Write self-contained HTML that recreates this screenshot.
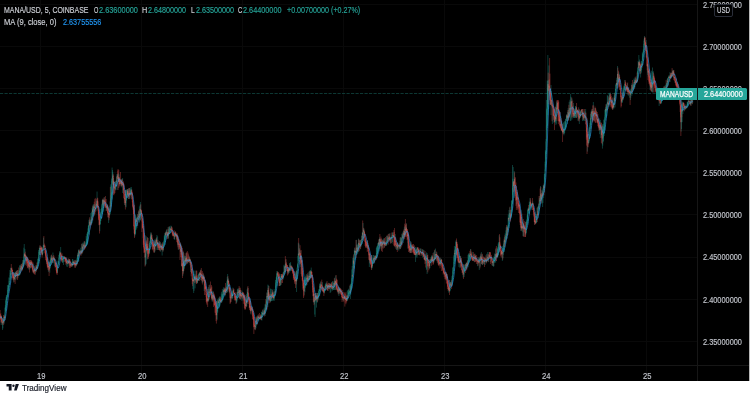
<!DOCTYPE html>
<html><head><meta charset="utf-8"><style>
html,body{margin:0;padding:0;width:750px;height:400px;overflow:hidden;background:#fff;font-family:"Liberation Sans",sans-serif;}
#chart{position:absolute;left:0;top:0;width:749px;height:381px;background:#000;overflow:hidden}
svg{position:absolute;left:0;top:0}
.t{position:absolute;line-height:12px;white-space:nowrap;transform-origin:0 0;-webkit-text-stroke:0.15px currentColor}
.lb{position:absolute;top:88px;height:12px;background:#26a69a}
#usd{position:absolute;left:714px;top:4px;width:17px;height:11px;border:1px solid #2a2e39;border-radius:2px;background:#000}
#foot{position:absolute;left:0;top:381px;width:750px;height:19px;background:#fff}
</style></head><body>
<div id="chart">
<svg width="749" height="381" viewBox="0 0 749 381">
<defs><filter id="bl" x="-1%" y="-1%" width="102%" height="102%"><feGaussianBlur stdDeviation="0.3"/></filter></defs>
<line x1="40.5" y1="0" x2="40.5" y2="381" stroke="#090909" stroke-width="1"/>
<line x1="141.5" y1="0" x2="141.5" y2="381" stroke="#090909" stroke-width="1"/>
<line x1="242.5" y1="0" x2="242.5" y2="381" stroke="#090909" stroke-width="1"/>
<line x1="343.5" y1="0" x2="343.5" y2="381" stroke="#090909" stroke-width="1"/>
<line x1="444.5" y1="0" x2="444.5" y2="381" stroke="#090909" stroke-width="1"/>
<line x1="545.5" y1="0" x2="545.5" y2="381" stroke="#090909" stroke-width="1"/>
<line x1="646.5" y1="0" x2="646.5" y2="381" stroke="#090909" stroke-width="1"/>
<line x1="0" y1="4.5" x2="697.5" y2="4.5" stroke="#090909" stroke-width="1"/>
<line x1="0" y1="46.5" x2="697.5" y2="46.5" stroke="#090909" stroke-width="1"/>
<line x1="0" y1="88.5" x2="697.5" y2="88.5" stroke="#090909" stroke-width="1"/>
<line x1="0" y1="130.5" x2="697.5" y2="130.5" stroke="#090909" stroke-width="1"/>
<line x1="0" y1="172.5" x2="697.5" y2="172.5" stroke="#090909" stroke-width="1"/>
<line x1="0" y1="214.5" x2="697.5" y2="214.5" stroke="#090909" stroke-width="1"/>
<line x1="0" y1="257.5" x2="697.5" y2="257.5" stroke="#090909" stroke-width="1"/>
<line x1="0" y1="299.5" x2="697.5" y2="299.5" stroke="#090909" stroke-width="1"/>
<line x1="0" y1="341.5" x2="697.5" y2="341.5" stroke="#090909" stroke-width="1"/>
<line x1="0" y1="93.5" x2="697" y2="93.5" stroke="#104540" stroke-width="0.8" stroke-dasharray="3.2 1.3"/>
<g filter="url(#bl)">
<path d="M-2.00 315.5V318.8M-1.30 310.0V322.5M-0.60 310.0V321.1M-0.25 315.8V317.5M1.15 315.0V325.0M2.55 320.0V330.0M2.90 318.4V328.4M3.25 317.0V322.9M3.95 318.8V324.1M4.30 314.7V320.0M5.00 307.5V320.0M5.35 305.1V312.5M5.70 300.5V310.9M6.05 297.3V308.7M6.40 295.0V310.0M6.75 295.4V305.0M7.10 295.3V299.9M7.45 285.0V297.5M7.80 290.0V295.7M8.15 285.5V293.6M8.50 285.3V291.5M8.85 277.5V290.0M9.20 281.1V287.3M9.55 282.7V284.9M9.90 270.0V282.5M10.25 272.8V280.2M10.60 271.0V278.9M10.95 267.6V274.2M13.75 272.5V282.5M14.45 276.6V280.1M14.80 272.5V279.6M15.50 272.0V276.9M15.85 271.6V280.2M16.55 270.9V276.2M17.25 270.2V276.1M17.95 274.7V278.1M18.30 272.6V275.1M19.00 270.0V275.8M19.35 271.1V275.5M19.70 265.6V272.1M20.05 265.0V275.0M20.75 267.8V272.2M21.10 263.9V269.5M22.50 262.5V270.0M22.85 260.0V268.5M23.55 259.8V265.5M23.90 247.7V264.0M24.25 244.0V262.5M24.95 249.1V261.0M25.65 255.0V265.0M26.70 256.8V261.0M28.80 263.3V269.6M29.85 260.0V269.4M30.90 261.7V268.3M33.70 264.2V273.4M34.75 270.0V271.7M35.45 269.2V273.5M35.80 265.5V269.8M36.50 265.6V271.2M37.20 265.8V269.1M37.55 258.6V267.6M37.90 262.0V266.0M38.25 259.0V264.3M38.60 250.0V262.5M38.95 251.7V261.0M39.30 247.8V255.2M39.65 246.4V254.7M41.05 246.3V252.8M42.45 248.9V255.4M42.80 247.9V254.1M43.15 244.8V250.5M43.50 237.6V247.7M44.20 245.8V247.3M47.00 259.0V264.0M48.40 261.7V271.9M49.80 260.4V272.7M50.15 261.6V268.0M50.50 258.3V266.5M50.85 256.5V263.0M51.20 255.0V265.0M51.90 256.6V263.7M52.95 252.5V262.5M53.30 257.2V263.2M54.35 257.9V265.9M55.40 261.7V266.9M57.50 266.5V271.4M57.85 260.7V268.9M58.20 262.7V265.7M58.55 261.2V263.9M58.90 255.0V262.5M59.25 254.4V259.4M59.60 251.1V259.8M59.95 251.6V255.1M60.65 247.0V259.0M62.40 257.7V262.8M62.75 255.8V262.8M63.10 257.6V260.4M63.45 256.0V265.0M63.80 256.1V262.1M64.15 256.3V258.4M66.60 257.5V266.5M67.65 261.1V267.1M68.00 260.0V264.3M68.70 259.6V263.5M69.05 258.8V265.9M70.80 263.5V265.7M71.15 264.3V265.9M71.85 261.8V266.7M72.55 259.0V266.5M72.90 259.2V264.5M73.60 260.8V265.0M73.95 260.7V265.4M75.70 259.8V266.8M76.40 262.3V266.2M76.75 258.3V263.7M77.45 255.0V264.1M77.80 252.5V259.1M78.50 250.0V262.0M78.85 249.3V261.1M79.55 251.9V254.0M80.25 250.1V252.8M80.60 247.7V254.2M81.65 244.0V254.5M82.35 243.5V253.2M83.05 242.4V251.3M83.40 243.6V246.8M84.10 241.4V249.4M84.80 242.2V248.3M85.85 241.6V247.3M86.20 235.9V246.4M86.55 238.7V245.9M86.90 233.8V245.2M87.25 233.1V242.9M87.60 232.0V244.0M87.95 228.4V235.9M88.30 225.6V233.0M88.65 225.2V234.2M89.00 220.0V235.0M89.35 218.6V227.3M90.40 221.9V225.5M90.75 213.0V223.1M91.10 219.0V224.2M91.80 211.5V223.8M92.15 208.0V223.0M92.50 206.5V216.7M93.20 204.4V214.2M93.55 204.5V216.7M93.90 206.0V213.6M94.60 204.2V215.2M96.00 203.1V211.0M96.35 201.2V205.8M97.05 191.5V208.0M99.85 221.8V231.2M100.20 213.3V224.4M100.55 218.1V221.2M100.90 209.0V221.2M101.25 211.6V219.3M101.60 207.8V212.8M101.95 204.0V214.2M102.30 200.0V213.3M102.65 199.0V214.0M103.35 201.2V207.8M103.70 199.4V211.6M104.40 197.1V202.4M105.80 202.5V207.0M106.50 204.4V210.9M106.85 204.9V208.6M108.60 208.0V223.0M109.65 208.3V215.6M110.00 201.4V214.0M110.70 184.4V209.4M111.05 186.2V206.6M111.40 192.0V203.8M111.75 178.6V200.0M112.10 167.5V199.0M112.45 170.0V183.4M112.80 171.9V184.2M113.50 178.0V193.5M114.20 185.6V188.7M115.25 185.2V190.3M115.60 181.0V190.2M116.30 179.7V186.9M117.00 174.0V190.1M117.35 173.9V179.0M118.40 173.3V181.9M119.10 174.4V182.2M119.80 182.5V184.4M120.15 180.4V184.6M121.20 179.6V187.4M121.90 178.8V185.9M122.60 178.0V193.0M124.70 197.7V205.1M125.75 189.9V206.7M126.10 189.7V207.4M126.45 189.7V200.7M126.80 194.3V196.0M127.15 189.2V196.7M127.85 189.2V195.1M128.55 188.5V199.0M129.25 188.1V199.0M130.30 189.5V195.0M130.65 187.4V195.7M131.00 188.9V195.0M131.35 187.0V199.0M134.85 221.7V236.6M135.20 219.0V235.0M135.55 214.5V233.8M135.90 215.4V227.1M136.60 217.5V229.6M136.95 218.0V228.2M137.30 217.2V219.2M138.00 214.4V220.5M138.35 211.8V217.2M139.05 210.8V222.9M139.40 206.4V222.2M140.10 204.6V220.8M140.45 202.0V220.0M141.15 210.3V218.9M145.35 254.1V265.7M145.70 247.9V264.8M146.05 236.0V263.9M147.10 237.1V259.7M149.20 248.6V254.2M149.55 242.5V252.8M149.90 240.8V249.8M150.25 236.7V244.7M150.60 233.6V242.8M150.95 232.0V247.0M151.65 233.9V240.8M153.40 243.2V247.3M154.45 243.7V252.5M154.80 239.4V252.2M155.50 242.0V246.1M155.85 239.5V245.9M156.20 238.1V242.8M156.90 235.0V250.0M157.60 236.4V250.0M159.35 241.0V250.0M160.40 241.9V251.7M161.45 243.6V249.7M162.15 243.5V255.5M163.20 244.8V251.3M163.55 241.3V248.3M163.90 242.3V245.4M164.25 235.6V244.2M164.60 235.3V241.8M164.95 233.0V245.0M165.30 232.4V242.2M166.00 231.7V239.5M166.35 230.3V233.3M166.70 229.6V234.4M167.40 232.9V236.8M168.10 227.0V239.0M168.45 229.2V238.1M169.15 227.5V234.0M169.50 226.2V233.2M169.85 226.8V233.5M170.20 228.1V231.6M170.90 225.5V233.0M171.25 226.2V230.1M173.00 233.7V235.7M174.40 234.4V239.4M174.75 233.3V239.8M175.10 231.6V236.0M176.50 233.6V239.4M177.55 235.3V245.3M178.60 239.5V249.8M180.35 242.9V251.8M181.05 244.6V254.3M182.10 259.4V267.2M182.80 252.1V276.0M183.50 251.9V272.5M184.20 260.2V269.0M184.55 255.5V267.5M184.90 256.3V263.0M185.60 256.0V265.9M186.30 252.8V261.5M187.00 259.0V263.8M187.70 259.4V263.6M188.75 259.1V261.9M189.10 255.8V261.7M189.80 257.9V263.2M190.50 260.0V272.0M191.55 268.8V273.1M192.95 277.6V289.0M193.65 270.6V293.0M194.00 270.6V290.8M194.35 273.8V278.3M195.05 277.9V288.4M195.40 274.4V282.6M195.75 270.6V281.2M197.15 279.1V283.4M197.50 276.5V283.0M198.20 277.5V280.9M198.55 273.7V280.4M198.90 273.7V280.5M199.25 272.7V274.9M199.95 272.7V275.9M200.65 269.7V280.1M202.05 273.5V282.7M202.75 275.5V282.6M203.45 273.8V279.4M204.15 275.9V291.0M207.30 297.8V301.7M208.35 286.9V301.5M208.70 288.8V300.8M209.75 284.6V294.8M210.10 288.7V291.2M211.15 288.3V297.5M212.20 295.3V301.8M212.55 291.4V300.3M213.25 291.1V300.0M216.75 300.6V319.0M217.10 306.9V320.3M217.45 299.7V311.3M217.80 301.1V312.6M218.15 298.6V308.2M218.85 297.6V308.5M219.20 298.3V303.0M219.55 296.6V307.0M220.25 298.7V305.5M221.30 293.6V302.7M221.65 291.8V302.7M222.00 295.5V302.0M222.35 289.0V301.0M222.70 293.7V300.1M223.05 290.7V295.5M223.40 287.2V297.0M224.10 288.3V292.4M224.80 290.8V296.4M225.15 288.0V295.6M225.85 287.9V293.3M226.20 286.5V290.9M226.90 281.2V293.0M227.25 276.8V285.5M227.60 274.0V292.0M228.30 278.4V287.4M229.35 284.9V293.3M230.75 295.3V302.0M231.45 293.6V298.9M231.80 291.1V296.6M232.50 292.5V299.0M232.85 287.6V298.0M233.20 290.1V292.3M236.35 297.1V303.3M236.70 295.8V302.6M237.05 292.8V301.5M237.40 289.2V297.4M237.75 288.5V295.2M238.45 289.5V297.6M238.80 287.9V293.4M239.50 290.0V298.5M240.55 289.8V299.5M241.95 290.6V301.0M242.30 291.9V299.5M243.70 294.8V299.6M245.80 300.8V308.4M246.15 299.0V306.0M246.85 293.8V306.3M247.20 289.2V300.0M247.55 287.4V296.9M250.00 299.5V308.2M251.05 307.5V314.6M252.10 305.8V312.4M254.90 323.3V329.9M255.60 323.0V329.2M255.95 317.3V328.2M256.65 318.2V323.8M257.35 317.4V324.2M257.70 315.2V319.3M258.05 315.7V320.0M258.75 317.1V320.8M259.10 316.7V319.6M260.15 315.0V318.8M260.85 315.7V318.7M261.55 311.9V320.1M261.90 311.6V320.6M262.25 311.9V317.3M262.60 310.1V317.5M263.30 310.7V314.6M263.65 312.5V313.3M264.00 308.4V315.3M264.35 307.4V315.0M265.05 304.0V316.0M265.40 304.9V313.6M266.10 302.5V310.8M266.45 300.1V309.6M266.80 292.4V303.0M267.50 295.8V299.6M267.85 284.6V307.0M268.55 285.4V298.5M269.25 294.1V300.4M269.60 295.5V300.2M270.30 299.2V301.9M270.65 288.5V301.7M271.00 289.0V301.0M271.70 294.5V301.0M272.05 289.1V301.0M273.10 291.3V300.8M273.80 293.8V299.9M274.15 289.0V301.0M274.50 293.9V298.5M274.85 291.1V296.8M275.55 279.9V293.3M275.90 282.5V288.4M276.25 277.1V283.2M276.60 273.4V286.9M276.95 271.0V286.0M277.30 271.3V279.7M279.75 279.2V286.0M280.10 274.0V286.0M280.45 278.1V285.4M281.15 274.0V284.6M282.20 274.6V278.4M283.25 275.2V279.6M283.60 272.0V278.2M283.95 264.8V273.9M284.30 266.0V275.4M285.00 264.7V272.6M285.70 259.5V271.6M287.80 269.0V272.9M288.50 268.4V273.6M289.20 270.0V273.0M289.55 263.0V271.1M290.25 263.4V271.4M290.60 262.0V271.0M291.65 265.4V270.8M295.15 272.0V280.7M295.85 272.8V284.2M296.55 271.0V292.0M296.90 270.0V280.9M297.25 267.5V279.1M297.60 264.1V268.1M297.95 255.9V267.1M298.30 242.7V261.1M299.00 243.6V259.0M299.35 248.2V254.6M300.75 250.6V267.0M301.45 255.4V275.8M304.25 280.0V294.9M304.60 284.9V287.6M304.95 277.1V292.2M305.30 278.2V288.2M305.65 275.7V285.3M306.00 277.3V280.7M306.35 274.0V286.0M306.70 277.8V281.5M307.40 274.5V281.9M308.45 275.7V282.1M308.80 271.7V280.2M309.15 274.4V280.7M309.50 271.0V280.0M310.20 269.9V278.3M310.55 270.4V278.3M311.25 267.6V278.0M313.70 287.6V302.7M314.40 297.3V303.9M314.75 297.6V314.5M315.10 293.0V317.0M316.15 295.1V302.2M316.50 293.0V307.6M317.20 293.0V302.8M317.90 292.8V300.6M318.25 295.5V299.3M318.60 290.9V298.3M318.95 289.0V296.3M319.30 289.7V291.6M319.65 284.0V296.0M320.00 283.0V291.0M320.70 281.5V288.8M322.45 282.2V290.2M323.15 289.9V291.8M324.20 288.9V293.1M324.55 288.4V293.4M325.25 284.5V291.0M325.60 283.9V288.7M325.95 283.1V288.7M326.30 282.4V287.4M327.35 284.2V290.3M328.40 285.4V288.9M328.75 282.8V288.9M329.80 283.8V288.3M330.15 284.0V293.0M330.85 283.2V292.2M332.25 286.1V290.8M332.60 281.4V289.2M332.95 281.0V290.0M333.65 283.1V290.0M334.00 281.8V290.0M334.70 277.6V290.0M335.05 280.2V283.2M335.75 275.5V290.0M337.85 288.5V292.8M338.55 286.7V293.4M338.90 287.0V296.0M339.60 287.6V293.0M340.65 288.6V294.4M342.75 296.4V300.3M343.80 297.1V300.5M344.50 295.5V299.0M346.25 294.8V300.2M346.95 297.8V301.1M347.30 290.7V300.1M348.00 290.0V299.0M348.35 289.7V297.4M348.70 288.7V295.9M349.05 291.9V293.7M349.40 290.9V294.7M349.75 285.9V294.0M350.45 284.0V299.0M350.80 286.2V294.5M351.15 282.7V290.4M351.50 278.2V289.2M351.85 269.5V287.8M352.20 266.0V281.6M352.90 258.0V279.0M353.25 256.5V270.3M353.95 257.9V267.6M354.30 250.2V268.6M354.65 248.1V255.1M355.35 249.6V256.1M355.70 251.0V260.1M356.40 239.8V255.0M356.75 244.6V248.7M357.45 247.3V254.4M357.80 243.8V253.5M358.15 245.0V249.2M358.50 238.6V252.0M359.55 240.4V247.4M360.25 240.4V249.4M360.95 239.7V247.1M361.30 242.0V245.0M361.65 236.0V244.1M362.35 231.9V240.1M363.05 223.0V237.4M363.40 228.3V240.9M364.10 229.3V233.4M366.90 240.3V247.7M367.60 241.1V248.1M368.30 245.1V249.0M369.35 252.0V267.0M370.05 254.7V264.0M371.80 255.0V269.5M372.50 259.9V267.8M372.85 257.6V263.5M373.20 255.0V262.5M373.90 255.0V264.0M374.25 256.9V261.0M374.95 255.7V260.7M375.30 255.5V258.5M376.35 248.0V259.3M376.70 246.9V258.6M377.05 246.0V258.0M377.40 249.5V254.4M377.75 243.0V253.6M378.10 244.3V249.3M378.45 242.4V249.8M379.15 239.3V251.6M379.50 237.4V244.9M380.55 238.4V247.4M381.25 241.1V249.6M381.95 238.9V246.9M382.65 240.5V248.2M383.00 241.2V244.5M383.70 238.7V243.1M384.05 238.4V243.8M384.75 241.4V247.1M385.10 242.4V245.3M386.15 243.1V245.7M386.50 235.9V245.5M386.85 240.7V245.3M387.55 235.9V243.3M387.90 236.8V240.8M388.95 233.7V239.2M390.00 233.2V241.5M390.70 236.9V243.4M391.05 236.9V239.4M391.75 236.7V238.6M392.10 235.0V243.7M392.45 232.5V242.0M392.80 232.4V236.1M393.50 235.3V237.8M395.25 234.0V247.6M396.65 244.5V250.0M397.00 243.2V249.9M397.70 242.4V249.4M398.75 245.3V250.6M399.45 243.6V247.8M399.80 240.7V248.7M400.50 237.0V249.0M400.85 238.1V247.6M401.55 237.8V244.3M401.90 234.0V239.9M402.60 235.2V238.7M402.95 231.9V237.0M403.30 231.0V243.0M404.35 227.2V237.4M405.05 225.8V236.5M406.10 223.1V233.2M407.85 233.2V248.7M409.95 244.0V252.7M410.65 241.0V253.0M411.35 243.5V252.5M411.70 245.5V246.4M413.10 245.6V248.9M414.85 249.3V253.3M415.55 247.0V262.0M415.90 251.9V254.2M416.25 248.3V256.8M416.95 247.0V257.8M417.30 247.7V255.5M418.70 249.0V254.9M419.75 251.7V255.4M420.10 248.9V253.7M420.45 248.3V252.4M422.20 249.2V254.8M422.55 249.3V257.5M423.95 250.0V259.0M424.65 255.3V260.5M425.35 257.4V259.4M426.05 255.9V263.2M426.40 252.4V269.9M426.75 255.5V268.7M427.10 253.0V274.0M428.50 261.2V263.3M429.55 261.0V268.9M429.90 259.0V268.0M430.25 260.1V263.1M430.60 259.6V262.6M430.95 257.1V261.1M431.65 255.9V261.9M432.00 255.0V261.4M432.70 257.3V261.2M433.75 252.1V263.0M434.10 257.6V261.4M434.45 250.3V259.8M435.15 254.2V259.6M435.50 248.6V259.0M436.20 254.0V255.9M436.90 252.3V260.7M437.60 256.7V263.3M439.35 262.2V265.1M439.70 257.3V263.7M440.40 260.1V265.8M440.75 258.4V264.8M441.10 258.7V260.8M442.85 267.7V269.3M444.60 271.6V274.7M446.00 272.6V278.8M446.70 274.0V279.8M448.80 287.4V292.8M449.15 283.6V291.8M449.85 280.0V291.6M450.20 281.7V290.2M450.55 282.0V285.1M451.25 283.2V286.0M451.95 275.9V286.0M452.30 277.3V283.0M452.65 267.7V279.9M453.00 266.9V276.9M453.35 270.2V273.9M453.70 255.4V270.8M454.05 257.5V266.6M454.40 246.0V264.0M455.10 249.5V261.4M455.45 246.4V259.9M455.80 241.4V258.4M456.15 240.1V255.4M458.95 252.0V267.0M459.65 261.6V263.0M460.00 255.6V268.2M460.70 256.2V263.0M461.75 261.7V266.6M462.45 266.0V272.0M463.15 269.9V277.5M463.85 265.0V275.1M464.20 267.9V277.0M464.55 264.6V271.8M464.90 266.7V270.3M465.25 264.0V269.6M465.95 262.7V268.5M466.65 262.6V268.4M467.70 260.3V267.8M468.05 255.0V267.0M468.40 254.0V262.7M468.75 253.2V263.3M469.10 254.8V259.4M469.45 253.2V261.8M470.15 253.9V257.6M470.50 249.0V261.0M472.25 251.9V260.4M473.65 255.1V261.2M474.35 257.0V261.9M475.05 253.6V259.4M476.10 257.9V260.9M476.80 259.4V260.8M477.50 260.1V266.2M478.55 257.1V262.7M479.25 258.0V270.0M479.60 257.4V262.1M480.30 257.7V266.6M480.65 254.4V259.9M481.35 252.0V264.0M482.05 254.6V264.5M482.75 260.1V265.2M483.45 259.9V263.7M484.15 257.3V264.3M484.85 257.3V262.2M485.20 259.1V265.0M486.60 253.8V262.8M486.95 258.7V261.4M487.65 252.0V261.0M488.70 257.6V262.2M489.05 252.0V258.7M490.80 257.0V262.0M491.15 256.7V258.1M492.55 261.7V266.0M492.90 260.8V265.6M493.60 258.0V267.0M493.95 256.2V266.1M494.30 257.0V263.0M494.65 253.4V261.0M495.00 254.4V262.5M495.70 249.2V262.6M496.75 253.0V257.1M497.45 247.3V258.2M497.80 248.9V257.1M498.15 243.6V256.1M498.50 242.2V255.0M498.85 244.9V250.3M499.20 235.2V252.9M501.65 251.0V254.9M502.35 246.0V261.0M503.05 247.6V258.2M503.40 245.0V254.8M503.75 240.7V249.7M504.45 237.0V252.0M505.15 233.3V243.5M505.50 235.8V243.3M505.85 230.4V239.0M506.20 227.3V239.2M506.90 226.8V238.5M507.25 225.8V235.6M507.95 224.8V232.0M508.30 214.4V227.0M509.00 210.0V228.0M509.35 212.9V220.7M509.70 207.4V218.8M510.75 213.4V219.2M511.10 209.5V217.5M511.45 201.0V216.0M511.80 200.0V212.0M512.15 200.3V208.5M512.50 165.0V204.0M512.85 178.7V194.9M513.20 167.0V191.6M513.90 181.2V196.7M514.25 171.0V198.0M516.70 192.0V204.4M519.15 203.1V206.6M520.90 210.0V231.0M521.60 217.1V228.5M522.30 225.6V232.1M523.00 221.5V236.0M523.70 224.1V236.2M524.40 225.3V230.4M525.80 230.4V235.3M526.15 222.1V233.3M526.50 221.5V230.3M526.85 219.5V225.1M527.20 215.2V221.4M527.55 210.0V225.0M527.90 208.5V223.1M528.25 208.7V214.3M528.95 207.1V212.9M529.30 201.5V213.9M529.65 203.9V210.2M530.00 198.0V210.0M531.05 203.2V208.9M531.40 204.0V208.2M531.75 203.4V210.0M532.10 202.8V206.9M532.80 201.4V204.6M534.90 212.2V224.6M535.95 221.2V223.6M536.30 215.8V222.6M536.65 214.4V222.3M537.00 208.0V218.2M538.05 206.1V218.0M538.40 206.3V209.6M538.75 203.3V214.5M539.45 198.0V210.3M539.80 196.2V200.6M540.50 186.0V204.0M541.55 194.9V200.2M541.90 190.0V203.5M542.60 192.0V207.0M542.95 188.5V202.9M543.30 185.0V190.0M543.65 185.1V198.0M544.35 174.0V192.0M544.70 173.5V186.3M545.05 161.6V179.6M545.40 150.0V171.0M545.75 151.1V166.7M546.10 139.0V158.9M546.45 100.0V154.0M546.80 109.0V130.4M547.15 80.5V126.3M547.50 80.7V128.0M547.85 55.0V115.0M548.55 80.3V109.5M548.90 65.5V97.5M551.00 85.0V115.0M551.35 90.8V104.5M552.40 103.0V124.0M553.80 113.8V122.7M554.85 115.9V121.8M555.20 116.0V122.8M555.90 107.0V125.1M556.25 104.5V123.8M556.60 101.5V113.2M557.30 101.3V110.3M559.75 111.7V122.5M560.80 116.0V127.6M561.85 121.2V131.4M562.90 123.3V133.2M563.60 122.3V133.5M563.95 129.0V135.4M564.30 127.9V133.9M564.65 121.0V133.0M565.00 122.1V130.9M565.35 125.1V127.3M565.70 118.9V129.4M566.05 118.6V127.4M566.40 115.3V121.1M566.75 114.2V119.4M567.45 112.0V124.0M568.15 108.1V120.9M568.50 109.9V120.2M569.20 101.8V117.9M569.90 99.7V115.7M570.60 94.0V121.0M570.95 96.7V120.6M571.30 101.3V103.1M572.00 98.5V119.5M572.35 106.4V109.8M573.40 103.0V118.0M574.10 111.4V118.0M574.45 110.8V118.0M575.15 109.3V116.8M575.50 106.0V118.0M575.85 106.3V117.1M576.20 106.8V118.0M577.25 110.5V116.8M577.95 109.3V120.9M579.35 109.0V124.0M580.05 112.0V117.7M580.75 111.0V116.4M581.10 109.8V113.5M582.50 109.0V121.0M582.85 112.3V116.6M583.90 111.5V121.0M584.25 115.1V121.0M585.30 111.5V118.6M585.65 109.0V121.0M587.40 119.4V151.6M588.45 140.3V144.5M588.80 137.6V143.2M589.15 134.1V141.1M589.50 127.0V139.0M589.85 122.9V135.5M590.20 120.6V131.0M590.55 114.0V129.0M591.25 111.0V125.1M591.60 110.4V117.6M592.30 109.0V121.6M593.35 102.0V120.0M594.05 110.8V120.8M594.75 108.1V117.4M596.50 110.7V119.9M597.55 118.8V123.4M599.30 126.7V129.8M599.65 118.5V134.2M600.35 120.0V138.0M600.70 124.6V128.6M601.75 127.2V137.5M602.45 126.0V148.6M602.80 124.1V145.7M603.15 123.8V142.2M603.50 119.7V141.2M603.85 126.5V130.7M604.20 126.4V136.0M604.55 118.6V133.3M604.90 110.0V130.0M605.25 108.6V119.2M605.60 106.8V120.6M606.30 104.2V117.5M606.65 105.4V116.1M607.00 103.3V111.0M607.35 95.0V110.0M607.70 96.0V104.1M608.40 103.2V105.1M609.10 93.4V106.8M609.45 93.6V101.8M610.15 92.5V105.0M611.55 100.3V103.4M612.95 98.6V109.6M613.65 103.0V107.4M614.00 96.6V108.5M614.35 94.5V105.1M615.05 92.5V107.5M615.40 89.0V98.3M615.75 84.5V91.7M616.10 83.3V90.3M616.45 82.9V86.1M617.15 77.4V88.2M617.50 66.0V85.0M618.20 78.1V81.9M618.90 72.3V82.3M619.25 73.9V85.5M621.70 95.4V102.8M622.05 98.2V102.9M622.40 96.8V102.3M623.10 87.5V100.0M623.80 85.5V96.0M624.15 86.3V91.6M624.50 86.2V90.2M624.85 80.0V90.0M626.60 87.1V89.9M627.30 83.3V92.0M628.35 88.2V95.8M629.40 90.1V97.7M630.45 90.3V100.0M630.80 88.9V97.8M631.15 89.3V92.6M631.85 83.3V95.8M632.20 84.7V94.0M632.90 85.3V89.3M633.25 83.8V89.4M633.60 84.5V90.3M633.95 78.6V88.8M634.65 79.7V86.9M635.00 77.5V87.5M635.70 78.2V84.3M636.05 80.5V82.7M636.75 76.4V83.1M637.45 70.8V79.3M637.80 67.8V76.8M638.15 61.0V74.3M638.85 55.0V70.0M639.55 59.6V65.5M640.60 65.0V77.5M640.95 65.4V73.6M641.30 61.3V72.5M641.65 60.9V70.3M642.35 52.5V65.0M642.70 54.2V60.1M643.05 51.5V60.9M643.40 49.3V56.9M643.75 43.8V52.3M644.10 39.3V47.2M644.45 36.0V50.0M646.20 40.0V57.5M647.60 63.8V74.9M648.30 66.2V77.2M650.05 75.0V90.0M650.75 72.8V89.2M651.45 70.7V91.4M652.15 82.4V92.1M652.50 67.5V92.5M652.85 71.9V85.6M653.20 71.0V83.6M656.00 88.7V90.9M656.70 86.8V95.2M657.75 94.6V98.6M658.45 94.2V97.9M659.15 96.0V106.0M659.50 97.6V100.8M660.90 96.0V104.0M661.25 96.6V103.3M661.60 99.7V102.3M661.95 94.1V100.5M662.65 96.2V99.6M663.00 91.9V98.7M663.35 89.6V94.9M663.70 87.0V92.8M664.75 86.3V91.7M665.10 85.3V88.8M665.80 84.7V90.6M666.50 83.3V87.8M666.85 83.2V87.4M667.20 78.8V84.3M667.90 78.0V86.0M668.25 77.2V85.5M668.60 76.2V77.8M668.95 75.2V78.2M670.00 72.0V82.0M671.05 74.0V78.6M671.75 72.8V76.8M672.80 69.7V75.1M673.50 70.2V77.6M674.55 77.0V78.6M675.25 80.8V82.9M677.35 82.0V88.6M681.20 100.2V131.6M681.55 109.4V129.0M682.25 105.5V122.2M682.60 101.6V110.6M682.95 102.0V114.0M684.70 107.1V110.3M685.05 104.0V110.0M685.75 107.4V108.7M686.10 106.0V108.3M686.80 104.6V107.6M687.15 102.0V108.0M687.50 101.7V106.3M687.85 102.4V106.3M688.20 99.9V104.9M688.55 100.3V101.8M689.25 100.3V101.4M690.30 101.8V104.8M690.65 99.9V105.6M691.35 98.9V103.5M692.05 99.0V104.4M692.75 98.7V102.8" stroke="#26a69a" stroke-width="0.35" fill="none"/>
<path d="M-1.65 317.1V320.4M-0.95 311.5V321.9M0.10 310.0V322.5M0.45 314.1V319.7M0.80 313.2V318.7M1.50 316.0V322.7M1.85 319.2V321.6M2.20 318.8V324.9M3.60 315.0V325.0M4.65 315.8V320.8M11.30 264.0V275.0M11.65 268.6V272.1M12.00 267.6V271.3M12.35 270.0V277.5M12.70 271.7V278.3M13.05 273.0V279.7M13.40 273.2V280.3M14.10 273.0V282.2M15.15 272.5V284.0M16.20 271.3V275.6M16.90 270.6V278.7M17.60 270.0V280.0M18.65 267.5V276.0M20.40 265.5V273.5M21.45 264.1V270.3M21.80 266.9V270.5M22.15 263.4V270.7M23.20 260.4V266.8M24.60 253.0V257.6M25.30 251.7V259.4M26.00 255.5V263.8M26.35 255.9V265.9M27.05 256.9V262.7M27.40 257.5V267.5M27.75 257.8V268.1M28.10 261.4V268.5M28.45 258.7V266.9M29.15 260.6V267.6M29.50 260.0V272.5M30.20 261.5V265.0M30.55 260.0V268.1M31.25 260.0V267.5M31.60 261.1V263.8M31.95 261.4V267.4M32.30 265.4V269.5M32.65 262.5V270.6M33.00 262.5V272.5M33.35 270.4V272.9M34.05 269.3V273.8M34.40 266.0V274.2M35.10 267.5V275.0M36.15 264.9V272.1M36.85 262.5V270.0M40.00 245.0V255.0M40.35 247.8V253.5M40.70 246.0V250.6M41.40 246.8V251.7M41.75 247.2V254.6M42.10 247.5V257.5M43.85 236.0V250.0M44.55 243.6V246.3M44.90 245.2V253.1M45.25 248.0V254.3M45.60 250.0V260.0M45.95 251.7V256.7M46.30 256.4V261.1M46.65 254.3V264.3M47.35 257.5V267.5M47.70 258.1V268.3M48.05 263.0V270.1M48.75 263.8V270.6M49.10 262.5V276.0M49.45 261.8V270.4M51.55 254.6V262.6M52.25 256.3V259.2M52.60 258.3V263.1M53.65 255.0V258.9M54.00 256.3V260.9M54.70 258.9V261.6M55.05 260.0V267.5M55.75 261.9V267.2M56.10 262.8V270.3M56.45 263.6V272.9M56.80 270.3V274.2M57.15 265.0V275.0M60.30 252.7V256.7M61.00 252.4V260.0M61.35 255.7V260.7M61.70 254.8V261.4M62.05 253.3V262.1M64.50 256.5V258.3M64.85 256.7V261.9M65.20 258.0V260.5M65.55 257.0V261.7M65.90 257.2V264.8M66.25 257.9V263.4M66.95 259.3V263.4M67.30 263.2V263.9M68.35 258.4V263.6M69.40 259.0V268.0M69.75 259.0V264.2M70.10 261.4V267.7M70.45 260.7V267.5M71.50 264.1V267.0M72.20 263.6V265.6M73.25 261.4V265.2M74.30 259.9V265.2M74.65 262.7V267.6M75.00 263.5V265.5M75.35 260.5V268.0M76.05 260.6V266.1M77.10 260.1V264.8M78.15 253.2V257.1M79.20 249.5V254.7M79.90 251.4V255.3M80.95 250.4V255.9M81.30 251.2V253.9M82.00 243.5V253.8M82.70 245.7V252.5M83.75 243.6V249.0M84.45 241.0V250.0M85.15 245.5V248.7M85.50 244.4V248.0M89.70 217.2V225.9M90.05 220.3V229.4M91.45 217.2V225.2M92.85 205.5V220.5M94.25 201.7V215.8M94.95 199.0V214.0M95.30 197.9V209.7M95.65 207.9V212.1M96.70 198.8V207.0M97.40 197.7V207.5M97.75 198.2V208.1M98.10 201.4V211.4M98.45 205.9V220.2M98.80 212.3V225.2M99.15 211.5V218.8M99.50 214.0V233.5M103.00 198.5V205.5M104.05 197.4V206.3M104.75 201.2V207.6M105.10 199.5V205.4M105.45 196.0V208.0M106.15 199.0V211.2M107.20 205.6V209.7M107.55 204.2V213.2M107.90 205.6V217.4M108.25 207.0V217.3M108.95 212.6V220.3M109.30 208.6V218.2M110.35 187.0V211.0M113.15 173.8V194.9M113.85 180.6V195.3M114.55 183.8V193.9M114.90 184.0V193.0M115.95 181.8V186.6M116.65 176.8V182.1M117.70 170.5V178.6M118.05 169.0V190.0M118.75 169.9V188.1M119.45 176.9V186.4M120.50 172.0V184.0M120.85 179.2V185.9M121.55 179.8V186.4M122.25 179.4V185.4M122.95 182.0V185.7M123.30 181.2V190.1M123.65 182.6V198.2M124.00 184.0V194.2M124.35 193.7V203.2M125.05 190.5V205.1M125.40 190.0V209.5M127.50 189.0V197.2M128.20 191.3V196.5M128.90 188.3V199.0M129.60 187.9V196.6M129.95 191.6V198.4M131.70 189.3V195.3M132.05 191.7V199.7M132.40 192.4V202.5M132.75 201.6V207.5M133.10 200.3V209.7M133.45 205.6V214.0M133.80 203.6V226.5M134.15 224.9V233.4M134.50 205.0V238.0M136.25 218.4V224.4M137.65 214.0V226.0M138.70 210.4V219.9M139.75 208.8V219.6M140.80 204.4V213.7M141.50 210.0V216.2M141.85 212.8V232.1M142.20 215.6V221.8M142.55 218.4V228.2M142.90 221.2V228.7M143.25 224.0V244.8M143.60 226.0V247.0M143.95 241.5V252.9M144.30 232.8V252.4M144.65 246.6V252.6M145.00 235.0V266.6M146.40 240.4V251.3M146.75 241.7V250.7M147.45 237.4V254.1M147.80 244.0V258.6M148.15 238.0V259.0M148.50 249.6V257.0M148.85 248.7V255.6M151.30 232.9V243.8M152.00 235.0V240.1M152.35 239.0V249.7M152.70 242.0V249.1M153.05 241.9V250.5M153.75 243.6V252.2M154.10 241.0V253.0M155.15 240.1V250.6M156.55 237.4V243.8M157.25 242.0V246.6M157.95 239.8V247.9M158.30 243.3V248.4M158.65 243.8V250.0M159.00 244.5V250.0M159.70 241.5V250.4M160.05 242.7V251.2M160.75 244.3V246.4M161.10 245.8V249.7M161.80 245.2V250.2M162.50 242.3V248.4M162.85 244.2V251.7M165.65 231.7V235.7M167.05 228.9V238.6M167.75 232.1V238.8M168.80 226.6V234.8M170.55 228.2V230.2M171.60 226.5V231.4M171.95 226.9V232.8M172.30 228.3V235.5M172.65 232.1V236.3M173.35 232.9V235.8M173.70 231.9V236.2M174.05 230.0V239.0M175.45 231.4V236.4M175.80 231.8V236.8M176.15 234.1V237.5M176.85 233.0V242.0M177.20 233.6V242.6M177.90 235.7V247.3M178.25 237.4V249.5M178.95 238.8V244.6M179.30 243.9V247.0M179.65 243.5V248.7M180.00 242.0V260.0M180.70 243.7V257.1M181.40 245.5V257.3M181.75 246.4V266.3M182.45 248.0V278.0M183.15 250.7V274.3M183.85 253.2V270.8M185.25 258.2V262.2M185.95 253.3V264.4M186.65 252.3V264.3M187.35 251.0V263.0M188.05 252.6V261.3M188.40 254.4V262.5M189.45 256.8V261.7M190.15 258.9V265.3M190.85 261.9V267.5M191.20 262.5V276.4M191.90 264.9V274.2M192.25 268.5V284.2M192.60 278.5V286.1M193.30 279.1V282.0M194.70 275.7V283.1M196.10 275.6V280.6M196.45 270.6V284.0M196.80 270.7V283.7M197.85 275.0V281.1M199.60 272.0V281.0M200.30 270.6V277.4M201.00 270.2V275.3M201.35 268.0V280.0M201.70 274.3V281.0M202.40 271.0V284.5M203.10 272.8V281.9M203.80 274.9V280.9M204.50 277.0V295.0M204.85 279.7V289.3M205.20 279.8V289.0M205.55 281.5V289.4M205.90 286.9V295.0M206.25 287.1V302.0M206.60 294.5V303.4M206.95 294.1V304.8M207.65 289.0V307.0M208.00 297.8V301.8M209.05 285.1V297.8M209.40 291.5V299.4M210.45 281.5V295.0M210.80 287.5V292.8M211.50 285.0V298.5M211.85 286.5V300.4M212.90 294.9V301.4M213.60 292.0V307.0M213.95 293.5V299.3M214.30 294.4V305.4M214.65 295.4V304.9M215.00 302.2V312.7M215.35 297.5V315.3M215.70 301.2V307.6M216.05 301.5V321.1M216.40 301.0V323.6M218.50 300.1V302.7M219.90 296.5V302.4M220.60 296.7V302.0M220.95 298.2V303.1M223.75 289.7V295.3M224.45 287.5V294.8M225.50 283.0V295.0M226.55 287.1V292.8M227.95 276.2V291.6M228.65 280.6V286.0M229.00 282.7V290.4M229.70 287.1V292.3M230.05 289.0V304.0M230.40 293.2V303.2M231.10 288.5V301.8M232.15 293.8V297.9M233.55 288.4V293.6M233.90 288.9V293.6M234.25 292.6V293.8M234.60 292.7V300.3M234.95 292.5V298.0M235.30 295.7V300.9M235.65 295.8V299.8M236.00 292.0V304.0M238.10 289.7V295.0M239.15 286.0V298.0M239.85 287.6V298.9M240.20 287.8V299.2M240.90 290.2V296.7M241.25 293.7V296.5M241.60 294.5V298.4M242.65 292.5V296.1M243.00 292.1V298.5M243.35 292.6V303.8M244.05 293.6V301.1M244.40 296.7V308.2M244.75 294.6V309.2M245.10 295.0V310.0M245.45 303.3V309.1M246.50 296.2V307.0M247.90 286.0V304.0M248.25 288.0V293.4M248.60 293.2V301.5M248.95 297.8V299.9M249.30 296.4V308.3M249.65 298.0V310.0M250.35 300.5V311.4M250.70 301.6V313.6M251.40 306.6V310.1M251.75 306.9V311.2M252.45 307.0V319.0M252.80 308.8V315.8M253.15 310.9V320.0M253.50 313.0V327.2M253.85 316.0V334.0M254.20 317.3V326.6M254.55 324.9V329.0M255.25 321.7V330.2M256.30 316.8V324.3M257.00 316.0V325.0M258.40 314.3V319.6M259.45 313.0V319.0M259.80 316.7V318.6M260.50 314.2V319.6M261.20 315.0V320.1M262.95 309.3V315.6M264.70 309.7V316.5M265.75 299.1V309.9M267.15 293.2V309.6M268.20 288.1V299.6M268.90 285.9V303.3M269.95 293.7V303.1M271.35 294.3V299.1M272.40 290.1V297.5M272.75 293.4V298.0M273.45 292.4V298.7M275.20 290.5V295.0M277.65 271.6V275.4M278.00 272.0V276.9M278.35 272.3V281.7M278.70 277.2V279.4M279.05 274.5V286.0M279.40 273.4V286.0M280.80 278.6V285.0M281.50 274.0V277.8M281.85 274.2V282.9M282.55 274.0V283.0M282.90 272.6V278.7M284.65 266.9V274.0M285.35 256.0V271.0M286.05 259.1V265.9M286.40 262.3V271.0M286.75 264.7V267.8M287.10 265.5V267.7M287.45 265.0V275.5M288.15 268.2V274.5M288.85 266.9V271.9M289.90 264.6V270.1M290.95 265.4V268.4M291.30 265.9V267.7M292.00 266.5V270.9M292.35 267.5V271.1M292.70 268.6V273.0M293.05 269.6V274.1M293.40 271.0V280.0M293.75 271.0V278.0M294.10 271.0V279.1M294.45 277.4V283.8M294.80 274.0V282.2M295.50 279.1V288.0M296.20 271.0V284.6M298.65 238.0V256.0M299.70 249.5V258.6M300.05 245.2V264.4M300.40 253.3V263.8M301.10 250.0V274.0M301.80 259.7V276.9M302.15 263.8V280.6M302.50 268.0V280.9M302.85 278.2V289.7M303.20 280.6V288.3M303.55 280.0V298.0M303.90 283.0V296.4M307.05 275.3V284.9M307.75 272.8V282.5M308.10 275.8V282.0M309.85 271.5V279.6M310.90 270.9V278.5M311.60 270.8V277.3M311.95 271.9V278.0M312.30 274.8V284.3M312.65 277.4V292.3M313.00 285.6V296.3M313.35 284.0V302.0M314.05 293.4V305.2M315.45 293.0V300.2M315.80 293.0V300.9M316.85 295.5V299.1M317.55 293.0V302.0M320.35 285.1V290.5M321.05 281.7V285.9M321.40 284.4V286.1M321.75 279.6V290.0M322.10 285.3V291.2M322.80 285.8V291.8M323.50 287.9V292.9M323.85 287.0V296.0M324.90 285.9V289.8M326.65 283.6V286.1M327.00 281.0V290.0M327.70 284.5V290.7M328.05 282.9V291.0M329.10 283.1V288.9M329.45 283.4V289.4M330.50 283.9V288.1M331.20 283.9V285.9M331.55 282.5V288.3M331.90 282.1V289.4M333.30 285.3V288.3M334.35 278.3V287.0M335.40 280.7V284.9M336.10 275.0V290.0M336.45 278.6V289.5M336.80 279.8V288.5M337.15 279.6V291.3M337.50 289.5V291.8M338.20 285.7V294.4M339.25 287.2V294.1M339.95 287.9V291.2M340.30 288.3V293.3M341.00 289.0V294.5M341.35 292.4V295.0M341.70 289.7V297.3M342.05 290.0V302.0M342.40 292.0V298.6M343.10 292.2V298.5M343.45 296.7V301.6M344.15 292.1V299.0M344.85 293.0V306.6M345.20 293.9V302.6M345.55 297.6V299.9M345.90 292.1V304.2M346.60 295.8V302.5M347.65 294.9V298.1M350.10 284.8V292.8M352.55 274.6V277.0M353.60 254.4V273.3M355.00 247.3V254.7M356.05 240.0V258.0M357.10 245.3V251.8M358.85 239.2V251.4M359.20 240.1V250.9M359.90 242.9V247.3M360.60 240.0V249.0M362.00 235.3V242.6M362.70 220.5V240.0M363.75 227.8V238.4M364.45 230.9V237.3M364.80 232.9V242.1M365.15 234.0V246.0M365.50 238.6V247.2M365.85 242.0V248.1M366.20 241.0V245.5M366.55 242.0V247.6M367.25 240.0V252.0M367.95 243.1V251.2M368.65 247.1V259.8M369.00 252.8V255.5M369.70 252.6V262.8M370.40 257.2V263.5M370.75 256.2V264.7M371.10 255.1V267.6M371.45 255.0V270.0M372.15 263.0V266.4M373.55 258.3V262.4M374.60 256.1V262.8M375.65 255.8V260.1M376.00 255.1V260.0M378.80 239.4V246.1M379.85 234.0V249.0M380.20 239.1V245.2M380.90 236.5V246.2M381.60 238.4V251.0M382.30 240.0V252.0M383.35 240.4V248.6M384.40 238.0V248.0M385.45 237.0V246.0M385.80 242.1V245.8M387.20 235.2V241.7M388.25 234.0V244.6M388.60 237.8V240.7M389.30 233.6V239.5M389.65 236.5V241.6M390.35 238.9V243.6M391.40 232.5V243.0M393.15 232.4V236.6M393.85 230.1V245.4M394.20 232.0V245.8M394.55 228.0V246.0M394.90 237.1V247.0M395.60 236.7V245.1M395.95 240.5V249.1M396.30 242.5V246.7M397.35 243.0V252.0M398.05 245.0V246.0M398.40 244.6V246.5M399.10 243.2V249.3M400.15 237.5V249.2M401.20 240.9V247.4M402.25 233.3V245.3M403.65 229.6V238.1M404.00 230.9V239.0M404.70 223.7V239.3M405.40 219.0V237.0M405.75 225.0V236.1M406.45 223.7V237.2M406.80 228.9V232.9M407.15 230.0V240.0M407.50 229.0V239.3M408.20 232.5V248.3M408.55 234.0V252.0M408.90 241.5V248.2M409.25 246.0V249.3M409.60 245.2V252.5M410.30 248.3V252.9M411.00 242.0V253.0M412.05 244.7V253.0M412.40 245.9V249.6M412.75 244.0V252.1M413.45 244.0V253.0M413.80 247.2V254.3M414.15 247.7V254.6M414.50 245.4V255.1M415.20 249.7V255.1M416.60 249.1V254.9M417.65 247.0V249.0M418.00 247.0V254.6M418.35 249.0V254.7M419.05 248.1V255.0M419.40 253.0V255.3M420.80 251.4V252.8M421.15 248.6V256.0M421.50 251.9V253.5M421.85 252.3V254.6M422.90 251.3V255.3M423.25 249.7V255.7M423.60 252.8V257.0M424.30 254.7V260.0M425.00 251.0V264.0M425.70 253.9V267.5M427.45 255.0V266.1M427.80 254.6V272.4M428.15 260.1V266.8M428.85 259.1V270.3M429.20 261.7V267.9M431.30 257.6V265.9M432.35 255.6V262.9M433.05 253.0V265.0M433.40 259.1V264.0M434.80 249.7V260.5M435.85 254.0V257.8M436.55 251.5V260.6M437.25 254.7V262.5M437.95 254.9V261.1M438.30 256.0V265.0M438.65 256.2V265.5M439.00 261.2V266.2M440.05 257.6V268.3M441.45 259.0V271.0M441.80 260.2V266.7M442.15 263.1V265.2M442.50 263.4V270.6M443.20 265.0V274.6M443.55 268.7V273.3M443.90 271.0V272.8M444.25 268.0V277.0M444.95 271.9V279.2M445.30 274.8V278.7M445.65 272.4V280.3M446.35 271.9V283.7M447.05 276.3V283.1M447.40 274.0V289.0M447.75 280.5V286.9M448.10 283.1V291.0M448.45 280.3V290.3M449.50 280.0V295.0M450.90 282.1V286.8M451.60 280.0V289.0M454.75 249.8V256.9M456.50 238.5V255.0M456.85 244.4V249.7M457.20 241.9V258.0M457.55 243.8V257.8M457.90 253.6V261.5M458.25 247.8V262.8M458.60 256.9V262.6M459.30 258.4V263.4M460.35 256.0V267.5M461.05 258.4V266.5M461.40 258.0V270.0M462.10 264.1V273.0M462.80 268.8V275.1M463.50 264.0V279.0M465.60 264.0V273.0M466.30 264.4V270.4M467.00 262.3V269.5M467.35 260.5V265.9M469.80 250.9V256.9M470.85 249.4V254.9M471.20 251.5V257.1M471.55 253.4V259.1M471.90 255.6V260.2M472.60 257.2V261.0M472.95 257.9V261.0M473.30 252.0V261.0M474.00 253.7V258.9M474.70 254.0V262.3M475.40 255.2V262.1M475.75 257.9V261.4M476.45 255.0V264.0M477.15 256.8V262.3M477.85 260.7V264.1M478.20 259.9V265.7M478.90 258.8V263.4M479.95 256.5V268.4M481.00 253.4V260.1M481.70 257.4V264.1M482.40 253.8V264.9M483.10 256.5V263.7M483.80 256.6V261.1M484.50 258.0V267.0M485.55 258.1V261.1M485.90 255.3V261.6M486.25 257.9V263.5M487.30 256.6V261.4M488.00 254.3V258.4M488.35 254.3V261.7M489.40 252.0V257.6M489.75 252.0V257.8M490.10 252.9V258.6M490.45 252.0V264.0M491.50 254.9V260.1M491.85 257.2V265.3M492.20 260.0V263.1M493.25 261.2V265.9M495.35 254.4V259.2M496.05 247.8V261.1M496.40 246.0V261.0M497.10 253.4V257.5M499.55 234.0V252.0M499.90 237.3V250.7M500.25 244.4V248.9M500.60 245.8V255.4M500.95 246.8V256.5M501.30 249.8V257.6M502.00 250.2V254.7M502.70 252.0V259.7M504.10 238.7V246.9M504.80 235.3V247.1M506.55 225.0V240.0M507.60 227.0V235.0M508.65 217.8V221.2M510.05 206.6V222.1M510.40 209.9V221.0M513.55 181.4V192.4M514.60 172.4V188.3M514.95 177.3V188.9M515.30 177.4V196.2M515.65 189.1V200.6M516.00 182.4V205.9M516.35 186.0V210.0M517.05 189.9V208.1M517.40 192.4V199.8M517.75 197.8V210.2M518.10 197.4V208.8M518.45 201.0V213.0M518.80 203.3V207.3M519.50 204.4V213.5M519.85 207.4V222.4M520.20 211.5V225.0M520.55 210.5V227.6M521.25 216.5V230.5M521.95 213.6V230.7M522.65 225.7V228.2M523.35 219.0V237.0M524.05 225.5V232.4M524.75 220.9V237.0M525.10 225.4V237.0M525.45 222.0V237.0M528.60 205.0V211.0M530.35 198.2V206.4M530.70 200.4V207.5M532.45 198.0V210.0M533.15 203.4V210.0M533.50 206.3V212.2M533.85 208.4V215.7M534.20 211.9V221.9M534.55 213.0V225.0M535.25 219.2V224.2M535.60 216.1V223.9M537.35 207.0V222.0M537.70 210.9V216.0M539.10 196.0V208.7M540.15 188.5V201.7M540.85 187.0V201.7M541.20 192.9V203.5M542.25 191.0V197.2M544.00 183.6V195.3M548.20 72.7V104.1M549.25 79.5V92.8M549.60 58.0V100.0M549.95 73.6V104.5M550.30 89.1V100.9M550.65 92.6V104.9M551.70 99.5V106.1M552.05 100.8V121.3M552.75 104.3V107.7M553.10 105.8V115.6M553.45 105.7V119.8M554.15 107.7V117.5M554.50 109.0V130.0M555.55 106.6V120.5M556.95 100.0V121.0M557.65 100.0V110.7M558.00 101.6V112.3M558.35 100.0V124.0M558.70 101.6V121.1M559.05 111.1V121.1M559.40 112.2V125.8M560.10 112.0V127.0M560.45 123.8V128.2M561.15 117.7V130.4M561.50 120.3V130.5M562.20 127.1V130.6M562.55 124.0V142.0M563.25 129.1V134.2M567.10 114.4V121.1M567.80 110.2V119.2M568.85 104.8V120.5M569.55 108.3V114.8M570.25 101.4V113.7M571.65 97.5V117.6M572.70 100.6V117.3M573.05 105.6V115.6M573.75 108.5V117.2M574.80 108.6V116.1M576.55 103.0V118.0M576.90 109.8V111.9M577.60 109.6V114.4M578.30 110.4V116.3M578.65 107.3V120.5M579.00 116.8V121.4M579.70 110.2V118.3M580.40 111.5V116.3M581.45 109.3V111.1M581.80 109.0V113.1M582.15 109.0V116.3M583.20 109.0V119.6M583.55 112.9V119.7M584.60 109.0V117.8M584.95 112.8V118.5M586.00 112.7V124.6M586.35 120.8V139.7M586.70 127.5V145.6M587.05 118.0V154.0M587.75 131.5V146.8M588.10 137.4V147.4M590.90 112.4V120.0M591.95 108.8V116.8M592.65 105.4V122.6M593.00 111.1V121.5M593.70 105.3V120.3M594.40 110.8V121.3M595.10 106.6V122.3M595.45 108.0V123.0M595.80 108.5V116.1M596.15 110.7V116.6M596.85 112.0V122.9M597.20 112.0V122.5M597.90 114.0V126.0M598.25 119.4V127.3M598.60 118.2V126.7M598.95 120.8V130.7M600.00 122.2V130.3M601.05 122.4V129.2M601.40 122.9V143.0M602.10 124.9V144.2M605.95 104.3V112.1M608.05 101.1V108.9M608.75 96.5V105.8M609.80 94.7V101.9M610.50 93.5V99.7M610.85 94.2V106.7M611.20 96.0V107.4M611.90 100.5V108.8M612.25 105.4V108.0M612.60 97.5V110.0M613.30 102.7V107.8M614.70 93.1V104.8M616.80 79.9V88.8M617.85 67.6V83.7M618.55 70.7V87.6M619.60 75.0V90.0M619.95 80.2V87.1M620.30 85.1V89.6M620.65 88.4V97.1M621.00 92.5V107.5M621.35 95.8V106.2M622.75 94.6V100.5M623.45 91.5V95.5M625.20 80.2V85.7M625.55 81.8V90.5M625.90 82.6V86.1M626.25 85.0V91.2M626.95 86.3V91.5M627.65 82.5V92.5M628.00 87.3V95.0M628.70 87.3V92.2M629.05 91.3V93.5M629.75 91.5V94.1M630.10 92.5V105.0M631.50 85.0V92.4M632.55 80.0V92.5M634.30 82.2V88.9M635.35 76.6V84.6M636.40 78.6V83.0M637.10 72.5V82.5M638.50 62.1V68.0M639.20 61.3V70.9M639.90 61.6V68.2M640.25 63.6V74.0M642.00 63.0V68.1M644.80 36.7V44.6M645.15 37.5V49.8M645.50 41.6V47.4M645.85 42.7V53.4M646.55 45.4V57.6M646.90 51.3V65.9M647.25 56.2V70.4M647.95 57.5V80.0M648.65 68.4V81.5M649.00 70.1V83.8M649.35 69.3V84.3M649.70 76.2V85.6M650.40 78.7V90.4M651.10 79.7V91.1M651.80 82.1V91.8M653.55 72.7V92.5M653.90 74.5V85.3M654.25 76.4V83.5M654.60 78.0V88.1M654.95 80.0V92.5M655.30 81.2V88.0M655.65 85.0V92.1M656.35 88.4V93.2M657.05 88.0V100.0M657.40 92.9V99.1M658.10 92.4V98.3M658.80 95.2V101.2M659.85 98.8V103.3M660.20 98.4V104.2M660.55 102.2V103.4M662.30 95.5V100.5M664.05 86.0V96.0M664.40 87.4V94.8M665.45 87.6V91.7M666.15 80.0V90.0M667.55 78.5V86.9M669.30 76.0V78.0M669.65 76.7V81.8M670.35 73.1V78.9M670.70 73.3V78.6M671.40 72.6V77.0M672.10 68.0V76.0M672.45 72.2V76.9M673.15 70.4V75.4M673.85 70.0V80.0M674.20 74.1V80.6M674.90 76.9V82.7M675.60 78.3V84.8M675.95 78.0V86.0M676.30 78.9V86.9M676.65 81.8V87.9M677.00 82.8V87.2M677.70 83.7V87.8M678.05 84.0V92.0M678.40 86.8V92.5M678.75 89.2V93.8M679.10 91.7V95.7M679.45 94.1V99.2M679.80 96.9V104.2M680.15 98.0V112.0M680.50 104.8V117.4M680.85 100.0V136.0M681.90 104.0V117.2M683.30 102.3V107.8M683.65 102.6V105.7M684.00 103.0V108.3M684.35 104.8V111.3M685.40 105.7V109.2M686.45 105.9V108.3M688.90 98.0V104.0M689.60 100.8V101.4M689.95 101.3V104.9M691.00 98.0V106.0M691.70 98.8V100.8M692.40 98.0V103.9" stroke="#ef5350" stroke-width="0.35" fill="none"/>
<path d="M-2.00 317.5V318.0M-1.30 316.8V318.8M-0.60 316.6V320.7M-0.25 315.9V316.6M1.15 316.6V318.5M2.55 322.1V323.3M2.90 321.6V322.1M3.25 321.0V321.6M3.95 318.9V322.5M4.30 316.7V318.9M5.00 312.3V318.0M5.35 307.8V312.3M5.70 307.1V307.8M6.05 300.1V307.1M6.40 298.6V300.1M6.75 297.2V298.6M7.10 296.6V297.2M7.45 293.7V296.6M7.80 293.1V293.7M8.15 288.2V293.1M8.50 287.6V288.2M8.85 285.1V287.6M9.20 284.2V285.1M9.55 282.9V284.2M9.90 277.6V282.9M10.25 275.1V277.6M10.60 274.0V275.1M10.95 268.2V274.0M13.75 276.9V277.8M14.45 277.3V278.9M14.80 275.0V277.3M15.50 273.9V276.7M15.85 273.1V273.9M16.55 273.1V273.8M17.25 273.8V276.0M17.95 275.0V276.2M18.30 275.0V275.5M19.00 274.0V275.1M19.35 271.3V274.0M19.70 270.7V271.3M20.05 268.5V270.7M20.75 268.8V269.3M21.10 266.3V268.8M22.50 266.7V268.9M22.85 265.4V266.7M23.55 262.3V265.6M23.90 256.3V262.3M24.25 254.2V256.3M24.95 254.6V256.0M25.65 256.5V257.0M26.70 259.2V260.6M28.80 264.7V265.4M29.85 262.3V266.8M30.90 262.2V264.5M33.70 269.6V271.8M34.75 270.1V271.3M35.45 269.4V270.8M35.80 267.8V269.4M36.50 266.9V268.3M37.20 266.0V268.4M37.55 264.5V266.0M37.90 263.1V264.5M38.25 260.8V263.1M38.60 257.1V260.8M38.95 255.0V257.1M39.30 251.8V255.0M39.65 248.2V251.8M41.05 248.1V249.4M42.45 253.4V254.7M42.80 248.8V253.4M43.15 247.2V248.8M43.50 245.5V247.2M44.20 245.8V246.3M47.00 261.7V262.2M48.40 265.8V267.0M49.80 262.6V268.6M50.15 262.3V262.8M50.50 262.1V262.6M50.85 259.9V262.1M51.20 258.4V259.9M51.90 258.3V260.3M52.95 258.6V259.4M53.30 257.5V258.6M54.35 258.6V259.6M55.40 263.0V263.5M57.50 268.4V272.8M57.85 265.1V268.4M58.20 264.1V265.1M58.55 261.3V264.1M58.90 258.1V261.3M59.25 257.4V258.1M59.60 253.8V257.4M59.95 252.7V253.8M60.65 254.3V254.8M62.40 259.0V259.9M62.75 258.7V259.2M63.10 258.6V259.1M63.45 258.4V258.9M63.80 257.5V258.4M64.15 257.1V257.6M66.60 261.5V262.6M67.65 262.4V263.5M68.00 261.3V262.4M68.70 261.2V263.2M69.05 260.4V261.2M70.80 264.9V265.5M71.15 264.6V265.1M71.85 263.9V265.1M72.55 264.3V265.3M72.90 262.0V264.3M73.60 262.0V263.1M73.95 261.8V262.3M75.70 263.3V265.1M76.40 263.5V264.8M76.75 261.1V263.5M77.45 256.4V261.6M77.80 254.7V256.4M78.50 254.6V255.8M78.85 250.7V254.6M79.55 252.4V252.9M80.25 251.8V252.4M80.60 251.1V251.8M81.65 250.2V252.9M82.35 247.3V251.2M83.05 246.5V248.4M83.40 245.2V246.5M84.10 245.9V246.4M84.80 245.5V246.3M85.85 244.8V246.3M86.20 243.3V244.8M86.55 243.1V243.6M86.90 241.5V243.1M87.25 237.0V241.5M87.60 234.2V237.0M87.95 231.7V234.2M88.30 231.3V231.8M88.65 226.2V231.3M89.00 224.7V226.2M89.35 221.8V224.7M90.40 223.0V225.2M90.75 220.6V223.0M91.10 220.1V220.6M91.80 215.9V220.4M92.15 212.2V215.9M92.50 209.5V212.2M93.20 210.1V212.3M93.55 207.0V210.1M93.90 206.6V207.1M94.60 207.5V208.0M96.00 204.9V208.9M96.35 204.1V204.9M97.05 200.6V205.9M99.85 224.3V224.8M100.20 219.2V224.3M100.55 218.7V219.2M100.90 217.9V218.7M101.25 212.2V217.9M101.60 211.6V212.2M101.95 205.2V211.6M102.30 202.6V205.2M102.65 200.1V202.6M103.35 204.1V204.6M103.70 199.9V204.1M104.40 201.3V202.2M105.80 205.6V206.1M106.50 206.5V207.7M106.85 206.4V206.9M108.60 213.2V214.6M109.65 213.6V214.9M110.00 205.7V213.6M110.70 198.2V206.3M111.05 195.1V198.2M111.40 192.9V195.1M111.75 180.7V192.9M112.10 178.5V180.7M112.45 177.0V178.5M112.80 175.5V177.0M113.50 181.4V185.1M114.20 186.8V187.7M115.25 187.5V188.7M115.60 185.6V187.5M116.30 180.9V186.1M117.00 175.9V181.3M117.35 175.6V176.1M118.40 177.3V179.5M119.10 178.7V182.0M119.80 182.5V184.2M120.15 180.7V182.5M121.20 180.8V183.4M121.90 182.5V184.3M122.60 184.0V184.7M124.70 198.3V198.9M125.75 200.2V203.1M126.10 197.3V200.2M126.45 195.9V197.3M126.80 195.7V196.2M127.15 190.7V195.7M127.85 192.8V194.7M128.55 193.7V194.2M129.25 193.2V194.7M130.30 192.8V194.7M130.65 191.3V192.8M131.00 190.6V191.3M131.35 190.4V190.9M134.85 233.4V234.2M135.20 230.0V233.4M135.55 222.2V230.0M135.90 219.6V222.2M136.60 219.7V221.9M136.95 219.0V219.7M137.30 217.7V219.0M138.00 216.9V218.1M138.35 216.1V216.9M139.05 215.7V216.2M139.40 213.9V215.7M140.10 212.4V214.7M140.45 209.2V212.4M141.15 211.3V211.8M145.35 255.6V257.4M145.70 252.8V255.6M146.05 243.7V252.8M147.10 246.4V249.0M149.20 251.8V253.4M149.55 245.0V251.8M149.90 243.1V245.0M150.25 240.9V243.1M150.60 237.0V240.9M150.95 235.4V237.0M151.65 237.6V239.1M153.40 244.5V246.3M154.45 246.4V249.3M154.80 246.0V246.5M155.50 243.5V246.1M155.85 241.1V243.5M156.20 239.7V241.1M156.90 242.4V242.9M157.60 242.6V244.4M159.35 246.7V247.4M160.40 246.2V247.8M161.45 245.8V247.8M162.15 247.5V249.3M163.20 246.6V249.9M163.55 245.0V246.6M163.90 243.4V245.0M164.25 239.7V243.4M164.60 238.1V239.7M164.95 237.0V238.1M165.30 233.4V237.0M166.00 233.3V234.8M166.35 232.8V233.3M166.70 231.9V232.8M167.40 233.6V235.4M168.10 235.7V236.2M168.45 232.3V235.7M169.15 232.5V233.8M169.50 231.8V232.5M169.85 231.1V231.8M170.20 229.3V231.1M170.90 229.2V229.7M171.25 229.0V229.5M173.00 233.8V234.3M174.40 236.4V236.9M174.75 233.7V236.4M175.10 232.8V233.7M176.50 234.7V236.1M177.55 239.6V240.1M178.60 243.7V244.6M180.35 249.0V249.5M181.05 250.0V251.7M182.10 263.3V265.9M182.80 269.6V270.9M183.50 262.3V270.7M184.20 262.3V266.0M184.55 261.0V262.3M184.90 260.0V261.0M185.60 258.5V261.4M186.30 257.6V261.2M187.00 259.9V260.4M187.70 261.1V261.6M188.75 259.4V261.4M189.10 259.1V259.6M189.80 259.4V261.0M190.50 262.3V263.0M191.55 269.1V269.6M192.95 279.5V280.9M193.65 279.8V281.0M194.00 276.9V279.8M194.35 276.8V277.3M195.05 279.8V280.3M195.40 277.3V279.8M195.75 276.5V277.3M197.15 279.7V282.5M197.50 278.7V279.7M198.20 279.6V280.5M198.55 278.9V279.6M198.90 274.7V278.9M199.25 274.6V275.1M199.95 272.9V275.1M200.65 273.8V274.8M202.05 276.5V277.7M202.75 277.1V278.9M203.45 276.6V279.3M204.15 280.0V280.5M207.30 298.8V301.1M208.35 293.2V300.3M208.70 291.6V293.2M209.75 290.4V292.7M210.10 289.2V290.4M211.15 292.1V292.6M212.20 296.2V298.7M212.55 294.9V296.2M213.25 295.8V298.5M216.75 312.8V315.2M217.10 308.0V312.8M217.45 306.3V308.0M217.80 305.8V306.3M218.15 301.8V305.8M218.85 301.5V302.6M219.20 300.9V301.5M219.55 299.2V300.9M220.25 300.0V300.7M221.30 300.5V301.6M221.65 299.4V300.5M222.00 298.3V299.4M222.35 298.0V298.5M222.70 295.1V298.0M223.05 293.9V295.1M223.40 290.3V293.9M224.10 289.4V291.8M224.80 291.2V291.7M225.15 289.3V291.2M225.85 290.8V292.3M226.20 289.1V290.8M226.90 285.2V289.6M227.25 283.4V285.2M227.60 279.6V283.4M228.30 281.1V282.4M229.35 287.7V288.9M230.75 297.1V297.9M231.45 295.2V297.4M231.80 294.8V295.3M232.50 294.0V296.0M232.85 291.2V294.0M233.20 290.4V291.2M236.35 299.9V300.4M236.70 298.8V299.9M237.05 296.1V298.8M237.40 294.8V296.1M237.75 291.9V294.8M238.45 292.3V292.9M238.80 291.4V292.3M239.50 290.2V292.3M240.55 293.4V296.1M241.95 294.8V296.4M242.30 292.8V294.8M243.70 295.5V297.6M245.80 302.7V306.1M246.15 300.4V302.7M246.85 299.8V303.0M247.20 294.3V299.8M247.55 292.4V294.3M250.00 306.2V307.4M251.05 308.0V310.9M252.10 309.6V310.1M254.90 326.2V326.7M255.60 326.1V326.9M255.95 321.2V326.1M256.65 319.7V322.6M257.35 319.2V320.6M257.70 318.3V319.2M258.05 316.6V318.3M258.75 317.8V318.3M259.10 317.5V318.0M260.15 317.1V318.3M260.85 316.2V318.3M261.55 315.7V317.7M261.90 314.6V315.7M262.25 314.5V315.0M262.60 313.0V314.5M263.30 313.2V314.2M263.65 313.0V313.5M264.00 311.5V313.0M264.35 310.5V311.5M265.05 310.9V313.8M265.40 308.6V310.9M266.10 304.1V308.6M266.45 300.6V304.1M266.80 296.2V300.6M267.50 295.8V297.3M267.85 290.0V295.8M268.55 292.3V296.5M269.25 298.6V299.5M269.60 296.7V298.6M270.30 299.6V300.7M270.65 294.9V299.6M271.00 294.5V295.0M271.70 295.1V295.8M272.05 292.4V295.1M273.10 296.0V296.8M273.80 296.7V298.1M274.15 296.3V296.8M274.50 295.9V296.4M274.85 291.8V295.9M275.55 285.4V292.1M275.90 282.7V285.4M276.25 279.9V282.7M276.60 277.4V279.9M276.95 276.0V277.4M277.30 273.4V276.0M279.75 281.7V282.9M280.10 280.8V281.7M280.45 279.3V280.8M281.15 275.9V279.4M282.20 275.7V278.0M283.25 275.4V276.9M283.60 273.3V275.4M283.95 271.7V273.3M284.30 270.9V271.7M285.00 266.2V271.7M285.70 263.6V267.5M287.80 269.6V271.3M288.50 268.6V271.5M289.20 270.2V271.0M289.55 267.9V270.2M290.25 267.4V268.3M290.60 266.2V267.4M291.65 266.9V267.6M295.15 280.3V280.8M295.85 278.8V281.0M296.55 279.7V281.4M296.90 273.5V279.7M297.25 267.6V273.5M297.60 264.6V267.6M297.95 263.0V264.6M298.30 253.8V263.0M299.00 253.0V254.9M299.35 252.7V253.2M300.75 256.5V259.5M301.45 260.2V262.7M304.25 287.2V291.3M304.60 286.5V287.2M304.95 282.5V286.5M305.30 281.6V282.5M305.65 280.1V281.6M306.00 279.9V280.4M306.35 278.9V279.9M306.70 277.9V278.9M307.40 277.6V278.6M308.45 280.0V280.5M308.80 279.7V280.2M309.15 278.0V279.7M309.50 276.0V278.0M310.20 275.9V276.9M310.55 271.7V275.9M311.25 271.8V272.4M313.70 294.0V295.8M314.40 300.1V301.7M314.75 299.8V300.3M315.10 296.2V299.8M316.15 296.1V300.2M316.50 295.7V296.2M317.20 296.5V299.1M317.90 296.7V297.3M318.25 296.3V296.8M318.60 294.3V296.3M318.95 291.4V294.3M319.30 289.7V291.4M319.65 289.6V290.1M320.00 285.8V289.6M320.70 284.4V288.1M322.45 288.5V289.0M323.15 290.2V291.0M324.20 291.6V292.1M324.55 289.3V291.6M325.25 288.4V289.7M325.60 286.1V288.4M325.95 285.3V286.1M326.30 285.2V285.7M327.35 285.4V287.4M328.40 285.9V287.5M328.75 285.2V285.9M329.80 286.8V287.3M330.15 285.8V286.8M330.85 284.8V287.1M332.25 288.6V289.1M332.60 287.5V288.6M332.95 286.9V287.5M333.65 286.9V287.8M334.00 282.9V286.9M334.70 283.1V285.5M335.05 281.1V283.1M335.75 281.7V284.3M337.85 288.6V290.1M338.55 290.5V291.7M338.90 289.8V290.5M339.60 288.7V290.7M340.65 290.9V291.9M342.75 297.3V297.9M343.80 297.6V298.1M344.50 296.1V298.6M346.25 298.1V300.0M346.95 299.2V301.0M347.30 296.6V299.2M348.00 295.7V297.7M348.35 294.6V295.7M348.70 292.9V294.6M349.05 292.6V293.1M349.40 291.5V292.6M349.75 290.7V291.5M350.45 289.5V291.6M350.80 287.4V289.5M351.15 285.2V287.4M351.50 283.8V285.2M351.85 281.5V283.8M352.20 274.9V281.5M352.90 268.5V275.5M353.25 260.6V268.5M353.95 260.0V263.7M354.30 254.5V260.0M354.65 250.9V254.5M355.35 251.2V252.4M355.70 251.1V251.6M356.40 247.9V253.1M356.75 247.8V248.3M357.45 250.9V251.4M357.80 247.8V250.9M358.15 246.8V247.8M358.50 242.9V246.8M359.55 244.8V245.3M360.25 243.8V244.9M360.95 244.4V246.2M361.30 243.8V244.4M361.65 239.2V243.8M362.35 232.8V239.3M363.05 232.4V234.8M363.40 229.9V232.4M364.10 231.9V232.4M366.90 244.9V245.5M367.60 245.8V246.4M368.30 248.3V248.8M369.35 254.0V254.7M370.05 258.5V260.4M371.80 265.7V267.7M372.50 262.8V265.9M372.85 260.8V262.8M373.20 258.6V260.8M373.90 259.3V259.8M374.25 258.1V259.3M374.95 257.7V258.9M375.30 256.6V257.7M376.35 257.1V258.0M376.70 253.2V257.1M377.05 252.9V253.4M377.40 250.9V252.9M377.75 245.9V250.9M378.10 244.8V245.9M378.45 242.7V244.8M379.15 241.6V244.4M379.50 239.1V241.6M380.55 241.5V243.6M381.25 242.9V246.0M381.95 243.2V243.7M382.65 242.9V245.2M383.00 241.7V242.9M383.70 242.3V243.0M384.05 241.6V242.3M384.75 243.7V245.2M385.10 243.5V244.0M386.15 243.6V244.4M386.50 242.0V243.6M386.85 241.2V242.0M387.55 239.7V241.5M387.90 238.4V239.7M388.95 236.9V239.1M390.00 239.0V239.6M390.70 237.5V239.2M391.05 237.0V237.5M391.75 237.4V237.9M392.10 236.9V237.4M392.45 235.9V236.9M392.80 234.9V235.9M393.50 235.5V236.0M395.25 241.5V242.0M396.65 244.9V245.8M397.00 244.4V244.9M397.70 245.7V247.7M398.75 246.0V246.5M399.45 245.6V246.2M399.80 245.3V245.8M400.50 244.6V246.2M400.85 242.4V244.6M401.55 239.4V243.8M401.90 237.5V239.4M402.60 235.7V238.1M402.95 234.5V235.7M403.30 233.2V234.5M404.35 231.3V235.1M405.05 228.9V234.9M406.10 227.6V230.8M407.85 235.2V236.0M409.95 248.6V250.7M410.65 247.5V249.9M411.35 245.8V250.4M411.70 245.5V246.0M413.10 246.8V248.2M414.85 252.6V253.3M415.55 253.9V255.1M415.90 253.8V254.3M416.25 251.8V253.8M416.95 250.1V252.2M417.30 248.3V250.1M418.70 250.7V251.7M419.75 251.9V253.7M420.10 251.8V252.3M420.45 251.6V252.1M422.20 253.3V253.8M422.55 252.3V253.3M423.95 256.3V256.8M424.65 257.6V259.6M425.35 258.8V259.3M426.05 259.4V260.9M426.40 259.2V259.7M426.75 258.0V259.2M427.10 257.6V258.1M428.50 262.3V262.8M429.55 264.1V266.1M429.90 262.0V264.1M430.25 260.9V262.0M430.60 260.3V260.9M430.95 258.8V260.3M431.65 260.4V261.0M432.00 256.7V260.4M432.70 259.6V260.6M433.75 259.8V261.7M434.10 258.8V259.8M434.45 257.6V258.8M435.15 254.6V258.8M435.50 254.1V254.6M436.20 254.0V254.7M436.90 255.4V255.9M437.60 258.7V259.2M439.35 263.6V264.1M439.70 262.2V263.6M440.40 262.9V264.0M440.75 260.1V262.9M441.10 259.8V260.3M442.85 267.7V268.2M444.60 272.5V274.0M446.00 273.8V276.5M446.70 277.2V277.7M448.80 288.2V289.6M449.15 287.5V288.2M449.85 287.7V291.0M450.20 284.3V287.7M450.55 283.6V284.3M451.25 284.9V285.8M451.95 281.2V285.0M452.30 278.5V281.2M452.65 274.9V278.5M453.00 271.3V274.9M453.35 270.3V271.3M453.70 266.2V270.3M454.05 261.8V266.2M454.40 253.1V261.8M455.10 250.7V254.0M455.45 247.0V250.7M455.80 246.5V247.0M456.15 241.9V246.5M458.95 260.9V261.4M459.65 262.5V263.0M460.00 260.3V262.5M460.70 259.8V262.2M461.75 265.3V265.8M462.45 270.6V271.1M463.15 273.1V273.6M463.85 272.1V273.5M464.20 270.6V272.1M464.55 268.5V270.6M464.90 267.8V268.5M465.25 266.9V267.8M465.95 264.6V266.9M466.65 262.9V266.3M467.70 263.1V265.3M468.05 261.5V263.1M468.40 259.6V261.5M468.75 259.2V259.7M469.10 257.8V259.2M469.45 255.5V257.8M470.15 255.1V255.6M470.50 253.8V255.1M472.25 257.4V257.9M473.65 257.0V259.7M474.35 257.8V258.3M475.05 255.9V258.2M476.10 258.7V259.7M476.80 259.8V260.3M477.50 260.9V261.4M478.55 261.1V262.2M479.25 259.8V262.7M479.60 259.1V259.8M480.30 258.6V259.6M480.65 256.4V258.6M481.35 257.6V259.9M482.05 260.2V260.7M482.75 261.3V262.5M483.45 260.6V261.6M484.15 260.5V261.0M484.85 260.6V262.0M485.20 259.3V260.6M486.60 259.4V261.7M486.95 259.4V259.9M487.65 257.2V259.7M488.70 258.1V258.9M489.05 255.3V258.1M490.80 257.5V258.3M491.15 257.3V257.8M492.55 262.1V262.8M492.90 261.4V262.1M493.60 261.9V262.4M493.95 258.7V261.9M494.30 257.7V258.7M494.65 257.3V257.8M495.00 257.0V257.5M495.70 254.3V257.1M496.75 253.5V256.7M497.45 252.1V257.1M497.80 249.1V252.1M498.15 248.2V249.1M498.50 247.4V248.2M498.85 246.4V247.4M499.20 242.4V246.4M501.65 251.2V254.1M502.35 252.5V253.8M503.05 250.3V252.8M503.40 248.0V250.3M503.75 243.7V248.0M504.45 240.1V244.4M505.15 239.9V242.3M505.50 238.9V239.9M505.85 238.1V238.9M506.20 233.9V238.1M506.90 231.4V234.1M507.25 228.5V231.4M507.95 226.3V229.7M508.30 218.1V226.3M509.00 216.9V219.3M509.35 214.9V216.9M509.70 213.6V214.9M510.75 217.3V217.9M511.10 211.4V217.3M511.45 210.1V211.4M511.80 204.3V210.1M512.15 203.4V204.3M512.50 187.7V203.4M512.85 185.2V187.7M513.20 181.6V185.2M513.90 183.0V186.1M514.25 179.2V183.0M516.70 196.6V199.8M519.15 205.0V206.3M520.90 221.4V222.9M521.60 225.8V228.3M522.30 226.8V228.5M523.00 223.3V227.7M523.70 227.5V228.5M524.40 227.4V229.1M525.80 232.5V233.5M526.15 227.7V232.5M526.50 224.1V227.7M526.85 220.9V224.1M527.20 219.4V220.9M527.55 214.3V219.4M527.90 213.3V214.3M528.25 208.7V213.3M528.95 208.9V210.3M529.30 207.7V208.9M529.65 204.5V207.7M530.00 202.2V204.5M531.05 206.0V206.5M531.40 204.1V206.0M531.75 204.1V204.6M532.10 203.3V204.1M532.80 203.5V204.0M534.90 220.9V222.2M535.95 222.2V223.1M536.30 218.6V222.2M536.65 215.5V218.6M537.00 214.0V215.5M538.05 208.2V214.5M538.40 206.5V208.2M538.75 204.5V206.5M539.45 200.3V204.7M539.80 199.7V200.3M540.50 194.3V201.0M541.55 196.1V199.0M541.90 193.4V196.1M542.60 194.7V195.9M542.95 189.6V194.7M543.30 187.7V189.6M543.65 186.3V187.7M544.35 183.5V188.3M544.70 176.6V183.5M545.05 169.4V176.6M545.40 163.6V169.4M545.75 152.0V163.6M546.10 141.4V152.0M546.45 125.2V141.4M546.80 110.1V125.2M547.15 107.7V110.1M547.50 87.4V107.7M547.85 84.2V87.4M548.55 89.8V90.7M548.90 85.7V89.8M551.00 102.7V104.7M551.35 99.9V102.7M552.40 105.3V106.3M553.80 115.0V115.6M554.85 121.0V121.7M555.20 116.7V121.0M555.90 111.6V119.2M556.25 110.6V111.6M556.60 107.8V110.6M557.30 103.0V108.8M559.75 119.3V121.5M560.80 124.2V125.5M561.85 127.6V130.4M562.90 129.6V132.3M563.60 130.3V131.7M563.95 129.6V130.3M564.30 129.1V129.6M564.65 128.9V129.4M565.00 127.0V128.9M565.35 126.8V127.3M565.70 120.9V126.8M566.05 119.3V120.9M566.40 118.8V119.3M566.75 115.4V118.8M567.45 116.0V118.0M568.15 116.5V117.0M568.50 112.6V116.5M569.20 112.2V117.4M569.90 107.9V112.5M570.60 106.3V109.6M570.95 102.7V106.3M571.30 101.4V102.7M572.00 108.2V108.7M572.35 107.9V108.4M573.40 113.1V114.1M574.10 115.7V116.2M574.45 113.1V115.7M575.15 112.3V113.8M575.50 110.1V112.3M575.85 108.2V110.1M576.20 107.5V108.2M577.25 111.1V111.7M577.95 112.5V113.2M579.35 115.6V118.7M580.05 114.2V117.5M580.75 111.7V115.8M581.10 110.3V111.7M582.50 113.1V114.7M582.85 113.1V113.6M583.90 117.5V118.0M584.25 115.3V117.5M585.30 116.9V117.4M585.65 116.8V117.3M587.40 134.3V137.5M588.45 142.6V143.1M588.80 140.0V142.6M589.15 137.9V140.0M589.50 136.3V137.9M589.85 127.7V136.3M590.20 124.9V127.7M590.55 118.4V124.9M591.25 117.2V118.8M591.60 111.9V117.2M592.30 111.2V113.7M593.35 113.3V115.8M594.05 112.9V113.5M594.75 112.5V114.5M596.50 115.1V116.0M597.55 119.0V121.6M599.30 127.5V128.3M599.65 125.0V127.5M600.35 128.5V129.9M600.70 126.3V128.5M601.75 130.6V134.9M602.45 138.0V138.5M602.80 137.5V138.0M603.15 134.9V137.5M603.50 129.5V134.9M603.85 128.7V129.5M604.20 126.6V128.7M604.55 120.4V126.6M604.90 116.9V120.4M605.25 115.2V116.9M605.60 109.0V115.2M606.30 110.2V110.7M606.65 106.9V110.2M607.00 104.2V106.9M607.35 102.4V104.2M607.70 102.2V102.7M608.40 103.3V104.7M609.10 98.5V104.3M609.45 98.4V98.9M610.15 97.0V99.7M611.55 101.5V102.8M612.95 104.2V108.5M613.65 103.2V107.2M614.00 102.1V103.2M614.35 98.0V102.1M615.05 95.4V100.8M615.40 91.6V95.4M615.75 88.5V91.6M616.10 84.6V88.5M616.45 83.0V84.6M617.15 78.1V85.1M617.50 73.9V78.1M618.20 78.5V79.0M618.90 77.5V79.5M619.25 76.8V77.5M621.70 100.0V101.5M622.05 98.7V100.0M622.40 96.9V98.7M623.10 95.3V99.1M623.80 89.5V95.4M624.15 88.1V89.5M624.50 87.7V88.2M624.85 83.8V87.7M626.60 88.0V88.7M627.30 88.0V90.0M628.35 90.5V91.8M629.40 91.4V92.6M630.45 94.2V94.7M630.80 92.0V94.2M631.15 91.6V92.1M631.85 91.6V92.2M632.20 87.7V91.6M632.90 87.7V88.2M633.25 85.6V87.7M633.60 84.7V85.6M633.95 82.3V84.7M634.65 81.2V83.3M635.00 80.2V81.2M635.70 82.5V83.1M636.05 81.0V82.5M636.75 79.7V82.4M637.45 74.9V81.2M637.80 71.5V74.9M638.15 66.9V71.5M638.85 62.3V67.2M639.55 63.6V65.3M640.60 69.4V71.0M640.95 68.0V69.4M641.30 67.1V68.0M641.65 64.1V67.1M642.35 59.3V64.9M642.70 56.3V59.3M643.05 53.1V56.3M643.40 49.4V53.1M643.75 46.3V49.4M644.10 40.6V46.3M644.45 37.8V40.6M646.20 49.9V50.9M647.60 64.2V66.5M648.30 70.8V72.6M650.05 82.1V82.7M650.75 82.8V86.8M651.45 84.6V88.0M652.15 82.5V87.4M652.50 81.3V82.5M652.85 77.7V81.3M653.20 76.3V77.7M656.00 89.7V90.4M656.70 92.1V92.6M657.75 95.7V96.7M658.45 96.0V97.3M659.15 99.3V99.8M659.50 98.8V99.3M660.90 102.8V103.3M661.25 100.6V102.8M661.60 100.4V100.9M661.95 97.7V100.4M662.65 96.7V98.4M663.00 94.3V96.7M663.35 91.2V94.3M663.70 89.7V91.2M664.75 88.1V90.8M665.10 88.1V88.6M665.80 87.4V88.2M666.50 85.2V87.6M666.85 83.4V85.2M667.20 81.3V83.4M667.90 80.7V81.9M668.25 77.8V80.7M668.60 77.1V77.8M668.95 77.0V77.5M670.00 75.4V77.9M671.05 74.9V78.0M671.75 72.9V75.8M672.80 71.0V73.6M673.50 72.3V73.7M674.55 77.1V77.6M675.25 80.9V81.4M677.35 85.7V86.2M681.20 112.9V122.2M681.55 109.5V112.9M682.25 108.2V111.5M682.60 104.3V108.2M682.95 103.1V104.3M684.70 108.0V108.5M685.05 107.3V108.0M685.75 108.3V108.8M686.10 106.6V108.3M686.80 106.4V106.9M687.15 105.1V106.4M687.50 103.8V105.1M687.85 102.8V103.8M688.20 101.4V102.8M688.55 101.1V101.6M689.25 101.0V101.5M690.30 103.6V104.1M690.65 101.9V103.6M691.35 100.7V102.7M692.05 99.5V100.8M692.75 98.9V100.0" stroke="#26a69a" stroke-width="0.5" fill="none"/>
<path d="M-1.65 317.5V318.8M-0.95 316.8V320.7M0.10 315.9V316.4M0.45 316.2V316.7M0.80 316.4V318.5M1.50 316.6V319.3M1.85 319.3V321.5M2.20 321.5V323.3M3.60 321.0V322.5M4.65 316.7V318.0M11.30 268.2V268.9M11.65 268.9V269.6M12.00 269.6V270.1M12.35 270.0V273.8M12.70 273.8V274.3M13.05 274.3V275.9M13.40 275.9V277.8M14.10 276.9V278.9M15.15 275.0V276.7M16.20 273.1V273.8M16.90 273.1V276.0M17.60 273.8V276.2M18.65 275.0V275.5M20.40 268.5V269.2M21.45 266.3V267.0M21.80 267.0V268.1M22.15 268.1V268.9M23.20 265.4V265.9M24.60 254.2V256.0M25.30 254.6V256.8M26.00 256.5V258.2M26.35 258.2V260.6M27.05 259.2V261.9M27.40 261.9V262.4M27.75 261.9V262.6M28.10 262.6V264.7M28.45 264.7V265.4M29.15 264.7V265.8M29.50 265.8V266.8M30.20 262.3V263.2M30.55 263.2V264.5M31.25 262.2V262.9M31.60 262.9V263.7M31.95 263.7V266.4M32.30 266.4V267.9M32.65 267.9V269.6M33.00 269.6V271.4M33.35 271.4V271.9M34.05 269.6V270.1M34.40 269.6V271.3M35.10 270.1V270.8M36.15 267.8V268.3M36.85 266.9V268.4M40.00 248.2V248.7M40.35 248.4V248.9M40.70 248.5V249.4M41.40 248.1V250.2M41.75 250.2V253.0M42.10 253.0V254.7M43.85 245.5V246.1M44.55 245.8V246.3M44.90 245.9V250.2M45.25 250.2V252.6M45.60 252.6V255.7M45.95 255.7V256.5M46.30 256.5V258.1M46.65 258.1V262.2M47.35 261.7V266.2M47.70 266.2V266.7M48.05 266.5V267.0M48.75 265.8V267.0M49.10 267.0V267.8M49.45 267.8V268.6M51.55 258.4V260.3M52.25 258.3V258.9M52.60 258.9V259.4M53.65 257.5V258.7M54.00 258.7V259.6M54.70 258.6V261.2M55.05 261.2V263.3M55.75 263.0V265.3M56.10 265.3V267.5M56.45 267.5V271.1M56.80 271.1V272.5M57.15 272.5V273.0M60.30 252.7V254.3M61.00 254.3V257.6M61.35 257.6V258.1M61.70 257.9V259.3M62.05 259.3V259.9M64.50 257.1V257.6M64.85 257.2V258.3M65.20 258.3V258.9M65.55 258.9V260.2M65.90 260.2V260.9M66.25 260.9V262.6M66.95 261.5V263.2M67.30 263.2V263.7M68.35 261.3V263.2M69.40 260.4V261.1M69.75 261.1V262.9M70.10 262.9V264.7M70.45 264.7V265.5M71.50 264.6V265.1M72.20 263.9V265.3M73.25 262.0V263.1M74.30 261.8V263.8M74.65 263.8V264.3M75.00 263.9V264.4M75.35 264.1V265.1M76.05 263.3V264.8M77.10 261.1V261.6M78.15 254.7V255.8M79.20 250.7V252.7M79.90 252.4V252.9M80.95 251.1V252.5M81.30 252.5V253.0M82.00 250.2V251.2M82.70 247.3V248.4M83.75 245.2V246.0M84.45 245.9V246.4M85.15 245.5V246.3M85.50 246.3V246.8M89.70 221.8V222.3M90.05 222.1V225.2M91.45 220.1V220.6M92.85 209.5V212.3M94.25 206.6V207.9M94.95 207.5V208.0M95.30 208.0V208.7M95.65 208.7V209.2M96.70 204.1V205.9M97.40 200.6V203.7M97.75 203.7V207.4M98.10 207.4V209.7M98.45 209.7V213.7M98.80 213.7V215.5M99.15 215.5V218.5M99.50 218.5V224.8M103.00 200.1V204.2M104.05 199.9V202.2M104.75 201.3V202.7M105.10 202.7V203.9M105.45 203.9V205.8M106.15 205.6V207.7M107.20 206.4V207.0M107.55 207.0V208.9M107.90 208.9V213.3M108.25 213.3V214.6M108.95 213.2V214.6M109.30 214.6V215.1M110.35 205.7V206.3M113.15 175.5V185.1M113.85 181.4V187.7M114.55 186.8V187.6M114.90 187.6V188.7M115.95 185.6V186.1M116.65 180.9V181.4M117.70 175.6V177.0M118.05 177.0V179.5M118.75 177.3V182.0M119.45 178.7V184.2M120.50 180.7V181.2M120.85 181.0V183.4M121.55 180.8V184.3M122.25 182.5V184.7M122.95 184.0V184.8M123.30 184.8V187.6M123.65 187.6V190.6M124.00 190.6V193.8M124.35 193.8V198.9M125.05 198.3V200.9M125.40 200.9V203.1M127.50 190.7V194.7M128.20 192.8V194.1M128.90 193.7V194.7M129.60 193.2V194.6M129.95 194.6V195.1M131.70 190.4V194.4M132.05 194.4V197.0M132.40 197.0V202.3M132.75 202.3V206.2M133.10 206.2V206.8M133.45 206.8V213.9M133.80 213.9V225.8M134.15 225.8V229.5M134.50 229.5V234.2M136.25 219.6V221.9M137.65 217.7V218.2M138.70 216.1V216.6M139.75 213.9V214.7M140.80 209.2V211.3M141.50 211.3V214.6M141.85 214.6V218.3M142.20 218.3V221.4M142.55 221.4V227.8M142.90 227.8V228.3M143.25 228.3V238.3M143.60 238.3V242.8M143.95 242.8V248.4M144.30 248.4V248.9M144.65 248.8V249.9M145.00 249.9V257.4M146.40 243.7V244.2M146.75 244.1V249.0M147.45 246.4V247.7M147.80 247.7V250.2M148.15 250.2V252.7M148.50 252.7V253.2M148.85 252.9V253.4M151.30 235.4V239.1M152.00 237.6V239.1M152.35 239.1V242.1M152.70 242.1V245.0M153.05 245.0V246.3M153.75 244.5V246.8M154.10 246.8V249.3M155.15 246.0V246.5M156.55 239.7V242.4M157.25 242.4V244.4M157.95 242.6V244.1M158.30 244.1V245.4M158.65 245.4V245.9M159.00 245.9V247.4M159.70 246.7V247.2M160.05 247.0V247.8M160.75 246.2V246.7M161.10 246.2V247.8M161.80 245.8V249.3M162.50 247.5V248.0M162.85 248.0V249.9M165.65 233.4V234.8M167.05 231.9V235.4M167.75 233.6V236.0M168.80 232.3V233.8M170.55 229.3V229.8M171.60 229.0V229.9M171.95 229.9V230.9M172.30 230.9V233.0M172.65 233.0V234.2M173.35 233.8V234.5M173.70 234.5V235.8M174.05 235.8V236.5M175.45 232.8V234.0M175.80 234.0V235.9M176.15 235.9V236.4M176.85 234.7V236.6M177.20 236.6V239.7M177.90 239.6V243.5M178.25 243.5V244.6M178.95 243.7V244.2M179.30 243.9V244.4M179.65 244.4V244.9M180.00 244.7V249.2M180.70 249.0V251.7M181.40 250.0V255.1M181.75 255.1V265.9M182.45 263.3V270.9M183.15 269.6V270.7M183.85 262.3V266.0M185.25 260.0V261.4M185.95 258.5V261.2M186.65 257.6V260.3M187.35 259.9V261.1M188.05 261.1V261.6M188.40 261.2V261.7M189.45 259.1V261.0M190.15 259.4V263.0M190.85 262.3V264.2M191.20 264.2V269.6M191.90 269.1V273.8M192.25 273.8V279.5M192.60 279.5V280.9M193.30 279.5V281.0M194.70 276.8V280.3M196.10 276.5V278.6M196.45 278.6V280.2M196.80 280.2V282.5M197.85 278.7V280.5M199.60 274.6V275.1M200.30 272.9V274.8M201.00 273.8V274.4M201.35 274.4V276.6M201.70 276.6V277.7M202.40 276.5V278.9M203.10 277.1V279.3M203.80 276.6V280.4M204.50 280.0V280.9M204.85 280.9V285.4M205.20 285.4V286.0M205.55 286.0V288.9M205.90 288.9V292.0M206.25 292.0V297.0M206.60 297.0V298.6M206.95 298.6V301.1M207.65 298.8V299.3M208.00 299.0V300.3M209.05 291.6V292.5M209.40 292.5V293.0M210.45 289.2V291.0M210.80 291.0V292.5M211.50 292.1V294.4M211.85 294.4V298.7M212.90 294.9V298.5M213.60 295.8V296.5M213.95 296.5V297.3M214.30 297.3V301.7M214.65 301.7V302.3M215.00 302.3V305.6M215.35 305.6V306.1M215.70 305.9V306.4M216.05 306.1V313.0M216.40 313.0V315.2M218.50 301.8V302.6M219.90 299.2V300.7M220.60 300.0V300.6M220.95 300.6V301.6M223.75 290.3V291.8M224.45 289.4V291.7M225.50 289.3V292.3M226.55 289.1V289.6M227.95 279.6V282.4M228.65 281.1V283.6M229.00 283.6V288.9M229.70 287.7V291.9M230.05 291.9V297.8M230.40 297.8V298.3M231.10 297.1V297.6M232.15 294.8V296.0M233.55 290.4V292.9M233.90 292.9V293.4M234.25 293.2V293.7M234.60 293.4V295.3M234.95 295.3V297.4M235.30 297.4V298.9M235.65 298.9V299.5M236.00 299.5V300.1M238.10 291.9V292.9M239.15 291.4V292.3M239.85 290.2V293.2M240.20 293.2V296.1M240.90 293.4V295.4M241.25 295.4V295.9M241.60 295.5V296.4M242.65 292.8V293.3M243.00 293.0V295.5M243.35 295.5V297.6M244.05 295.5V297.2M244.40 297.2V300.6M244.75 300.6V304.3M245.10 304.3V305.4M245.45 305.4V306.1M246.50 300.4V303.0M247.90 292.4V292.9M248.25 292.8V293.4M248.60 293.4V298.5M248.95 298.5V299.0M249.30 299.0V303.9M249.65 303.9V307.4M250.35 306.2V310.4M250.70 310.4V310.9M251.40 308.0V308.5M251.75 308.4V309.7M252.45 309.6V310.4M252.80 310.4V313.7M253.15 313.7V316.8M253.50 316.8V317.3M253.85 317.1V320.3M254.20 320.3V325.1M254.55 325.1V326.6M255.25 326.2V326.9M256.30 321.2V322.6M257.00 319.7V320.6M258.40 316.6V318.2M259.45 317.5V318.0M259.80 318.0V318.5M260.50 317.1V318.3M261.20 316.2V317.7M262.95 313.0V314.2M264.70 310.5V313.8M265.75 308.6V309.1M267.15 296.2V297.3M268.20 290.0V296.5M268.90 292.3V299.5M269.95 296.7V300.7M271.35 294.5V295.8M272.40 292.4V294.9M272.75 294.9V296.8M273.45 296.0V298.1M275.20 291.8V292.3M277.65 273.4V273.9M278.00 273.7V275.0M278.35 275.0V277.8M278.70 277.8V278.3M279.05 277.8V278.5M279.40 278.5V282.9M280.80 279.3V279.8M281.50 275.9V276.9M281.85 276.9V278.0M282.55 275.7V276.2M282.90 275.7V276.9M284.65 270.9V271.7M285.35 266.2V267.5M286.05 263.6V264.7M286.40 264.7V265.4M286.75 265.4V266.9M287.10 266.9V267.5M287.45 267.5V271.3M288.15 269.6V271.5M288.85 268.6V271.0M289.90 267.9V268.4M290.95 266.2V266.8M291.30 266.8V267.6M292.00 266.9V270.0M292.35 270.0V270.5M292.70 270.2V272.2M293.05 272.2V273.7M293.40 273.7V276.0M293.75 276.0V276.6M294.10 276.6V278.3M294.45 278.3V278.8M294.80 278.7V280.5M295.50 280.3V281.0M296.20 278.8V281.4M298.65 253.8V254.9M299.70 252.7V253.2M300.05 253.1V255.6M300.40 255.6V259.5M301.10 256.5V262.7M301.80 260.2V265.2M302.15 265.2V270.6M302.50 270.6V279.1M302.85 279.1V282.6M303.20 282.6V285.9M303.55 285.9V288.4M303.90 288.4V291.3M307.05 277.9V278.6M307.75 277.6V280.2M308.10 280.2V280.7M309.85 276.0V276.9M310.90 271.7V272.4M311.60 271.8V274.4M311.95 274.4V277.5M312.30 277.5V282.2M312.65 282.2V287.5M313.00 287.5V290.4M313.35 290.4V295.8M314.05 294.0V301.7M315.45 296.2V296.7M315.80 296.7V300.2M316.85 295.7V299.1M317.55 296.5V297.3M320.35 285.8V288.1M321.05 284.4V285.0M321.40 285.0V285.6M321.75 285.6V287.7M322.10 287.7V288.8M322.80 288.5V291.0M323.50 290.2V291.6M323.85 291.6V292.1M324.90 289.3V289.8M326.65 285.2V285.9M327.00 285.9V287.4M327.70 285.4V285.9M328.05 285.9V287.5M329.10 285.2V286.2M329.45 286.2V287.0M330.50 285.8V287.1M331.20 284.8V285.5M331.55 285.5V286.0M331.90 285.8V288.6M333.30 286.9V287.8M334.35 282.9V285.5M335.40 281.1V284.3M336.10 281.7V282.9M336.45 282.9V284.8M336.80 284.8V287.0M337.15 287.0V289.6M337.50 289.6V290.1M338.20 288.6V291.7M339.25 289.8V290.7M339.95 288.7V290.8M340.30 290.8V291.9M341.00 290.9V292.7M341.35 292.7V293.6M341.70 293.6V295.1M342.05 295.1V297.1M342.40 297.1V297.9M343.10 297.3V297.8M343.45 297.6V298.1M344.15 297.6V298.6M344.85 296.1V298.4M345.20 298.4V299.2M345.55 299.2V299.7M345.90 299.3V300.0M346.60 298.1V301.0M347.65 296.6V297.7M350.10 290.7V291.6M352.55 274.9V275.5M353.60 260.6V263.7M355.00 250.9V252.4M356.05 251.1V253.1M357.10 247.8V250.9M358.85 242.9V243.6M359.20 243.6V245.0M359.90 244.8V245.3M360.60 243.8V246.2M362.00 239.2V239.7M362.70 232.8V234.8M363.75 229.9V232.2M364.45 231.9V235.8M364.80 235.8V238.2M365.15 238.2V241.2M365.50 241.2V242.0M365.85 242.0V243.4M366.20 243.4V244.4M366.55 244.4V245.5M367.25 244.9V246.4M367.95 245.8V248.8M368.65 248.3V253.0M369.00 253.0V254.7M369.70 254.0V260.4M370.40 258.5V261.4M370.75 261.4V261.9M371.10 261.8V264.8M371.45 264.8V267.7M372.15 265.7V266.2M373.55 258.6V259.4M374.60 258.1V258.9M375.65 256.6V257.1M376.00 256.8V258.0M378.80 242.7V244.4M379.85 239.1V240.2M380.20 240.2V243.6M380.90 241.5V246.0M381.60 242.9V243.4M382.30 243.2V245.2M383.35 241.7V243.0M384.40 241.6V245.2M385.45 243.5V244.0M385.80 243.6V244.4M387.20 241.2V241.7M388.25 238.4V239.0M388.60 239.0V239.5M389.30 236.9V237.7M389.65 237.7V239.6M390.35 239.0V239.5M391.40 237.0V237.9M393.15 234.9V236.0M393.85 235.5V237.8M394.20 237.8V238.3M394.55 238.0V238.6M394.90 238.6V241.8M395.60 241.5V242.0M395.95 241.6V244.9M396.30 244.9V245.8M397.35 244.4V247.7M398.05 245.7V246.2M398.40 245.7V246.2M399.10 246.0V246.5M400.15 245.3V246.2M401.20 242.4V243.8M402.25 237.5V238.1M403.65 233.2V234.5M404.00 234.5V235.1M404.70 231.3V234.9M405.40 228.9V230.1M405.75 230.1V230.8M406.45 227.6V231.6M406.80 231.6V232.1M407.15 231.7V233.1M407.50 233.1V236.0M408.20 235.2V242.9M408.55 242.9V243.4M408.90 243.2V246.0M409.25 246.0V248.2M409.60 248.2V250.7M410.30 248.6V249.9M411.00 247.5V250.4M412.05 245.5V246.8M412.40 246.8V247.3M412.75 246.9V248.2M413.45 246.8V247.9M413.80 247.9V251.6M414.15 251.6V252.4M414.50 252.4V253.3M415.20 252.6V255.1M416.60 251.8V252.3M417.65 248.3V248.8M418.00 248.5V249.8M418.35 249.8V251.7M419.05 250.7V253.2M419.40 253.2V253.7M420.80 251.6V252.4M421.15 252.4V252.9M421.50 252.8V253.3M421.85 253.2V253.7M422.90 252.3V252.9M423.25 252.9V254.0M423.60 254.0V256.4M424.30 256.3V259.6M425.00 257.6V259.2M425.70 258.8V260.9M427.45 257.6V260.1M427.80 260.1V260.6M428.15 260.2V262.7M428.85 262.3V263.3M429.20 263.3V266.1M431.30 258.8V261.0M432.35 256.7V260.6M433.05 259.6V260.9M433.40 260.9V261.7M434.80 257.6V258.8M435.85 254.1V254.7M436.55 254.0V255.8M437.25 255.4V258.8M437.95 258.7V259.2M438.30 259.2V260.3M438.65 260.3V262.1M439.00 262.1V263.8M440.05 262.2V264.0M441.45 259.8V262.5M441.80 262.5V264.1M442.15 264.1V264.6M442.50 264.6V267.9M443.20 267.7V270.8M443.55 270.8V271.7M443.90 271.7V272.6M444.25 272.6V274.0M444.95 272.5V275.2M445.30 275.2V275.7M445.65 275.5V276.5M446.35 273.8V277.5M447.05 277.2V280.5M447.40 280.5V284.7M447.75 284.7V286.2M448.10 286.2V286.7M448.45 286.6V289.6M449.50 287.5V291.0M450.90 283.6V285.8M451.60 284.9V285.4M454.75 253.1V254.0M456.50 241.9V246.4M456.85 246.4V247.7M457.20 247.7V248.6M457.55 248.6V254.5M457.90 254.5V255.7M458.25 255.7V260.7M458.60 260.7V261.4M459.30 260.9V262.8M460.35 260.3V262.2M461.05 259.8V263.0M461.40 263.0V265.5M462.10 265.3V270.6M462.80 270.6V273.2M463.50 273.1V273.6M465.60 266.9V267.4M466.30 264.6V266.3M467.00 262.9V264.2M467.35 264.2V265.3M469.80 255.5V256.0M470.85 253.8V254.8M471.20 254.8V256.6M471.55 256.6V257.1M471.90 257.0V257.9M472.60 257.4V259.2M472.95 259.2V259.7M473.30 259.2V259.7M474.00 257.0V258.1M474.70 257.8V258.3M475.40 255.9V259.1M475.75 259.1V259.7M476.45 258.7V259.8M477.15 259.8V261.4M477.85 260.9V261.4M478.20 261.1V262.2M478.90 261.1V262.7M479.95 259.1V259.6M481.00 256.4V259.9M481.70 257.6V260.4M482.40 260.2V262.5M483.10 261.3V261.8M483.80 260.6V261.1M484.50 260.5V262.0M485.55 259.3V260.0M485.90 260.0V260.7M486.25 260.7V261.7M487.30 259.4V259.9M488.00 257.2V258.3M488.35 258.3V258.9M489.40 255.3V255.8M489.75 255.6V257.1M490.10 257.1V257.6M490.45 257.3V258.3M491.50 257.3V258.5M491.85 258.5V261.0M492.20 261.0V262.8M493.25 261.4V262.3M495.35 257.0V257.5M496.05 254.3V255.0M496.40 255.0V256.7M497.10 253.5V257.1M499.55 242.4V242.9M499.90 242.6V245.0M500.25 245.0V246.0M500.60 246.0V249.1M500.95 249.1V251.0M501.30 251.0V254.1M502.00 251.2V253.8M502.70 252.5V253.0M504.10 243.7V244.4M504.80 240.1V242.3M506.55 233.9V234.4M507.60 228.5V229.7M508.65 218.1V219.3M510.05 213.6V214.4M510.40 214.4V217.9M513.55 181.6V186.1M514.60 179.2V183.8M514.95 183.8V186.8M515.30 186.8V191.7M515.65 191.7V192.2M516.00 191.7V194.0M516.35 194.0V199.8M517.05 196.6V197.1M517.40 196.8V198.2M517.75 198.2V198.7M518.10 198.4V203.7M518.45 203.7V204.2M518.80 203.8V206.3M519.50 205.0V208.7M519.85 208.7V213.5M520.20 213.5V214.7M520.55 214.7V222.9M521.25 221.4V228.3M521.95 225.8V228.5M522.65 226.8V227.7M523.35 223.3V228.5M524.05 227.5V229.1M524.75 227.4V229.0M525.10 229.0V232.1M525.45 232.1V233.5M528.60 208.7V210.3M530.35 202.2V204.1M530.70 204.1V206.0M532.45 203.3V204.0M533.15 203.5V207.7M533.50 207.7V209.8M533.85 209.8V214.3M534.20 214.3V217.2M534.55 217.2V222.2M535.25 220.9V221.9M535.60 221.9V223.1M537.35 214.0V214.5M537.70 214.5V215.0M539.10 204.5V205.0M540.15 199.7V201.0M540.85 194.3V194.8M541.20 194.8V199.0M542.25 193.4V195.9M544.00 186.3V188.3M548.20 84.2V90.7M549.25 85.7V87.1M549.60 87.1V88.1M549.95 88.1V90.9M550.30 90.9V93.9M550.65 93.9V104.7M551.70 99.9V101.1M552.05 101.1V106.3M552.75 105.3V107.5M553.10 107.5V108.6M553.45 108.6V115.6M554.15 115.0V115.9M554.50 115.9V121.7M555.55 116.7V119.2M556.95 107.8V108.8M557.65 103.0V108.8M558.00 108.8V110.3M558.35 110.3V110.9M558.70 110.9V114.8M559.05 114.8V117.1M559.40 117.1V121.5M560.10 119.3V125.1M560.45 125.1V125.6M561.15 124.2V129.1M561.50 129.1V130.4M562.20 127.6V129.9M562.55 129.9V132.3M563.25 129.6V131.7M567.10 115.4V118.0M567.80 116.0V116.6M568.85 112.6V117.4M569.55 112.2V112.7M570.25 107.9V109.6M571.65 101.4V108.5M572.70 107.9V112.6M573.05 112.6V114.1M573.75 113.1V115.8M574.80 113.1V113.8M576.55 107.5V110.1M576.90 110.1V111.7M577.60 111.1V113.2M578.30 112.5V115.5M578.65 115.5V117.2M579.00 117.2V118.7M579.70 115.6V117.5M580.40 114.2V115.8M581.45 110.3V110.8M581.80 110.8V111.7M582.15 111.7V114.7M583.20 113.1V117.1M583.55 117.1V117.8M584.60 115.3V116.4M584.95 116.4V117.2M586.00 116.8V124.0M586.35 124.0V127.8M586.70 127.8V132.2M587.05 132.2V137.5M587.75 134.3V142.6M588.10 142.6V143.1M590.90 118.4V118.9M591.95 111.9V113.7M592.65 111.2V111.7M593.00 111.3V115.8M593.70 113.3V113.8M594.40 112.9V114.5M595.10 112.5V113.8M595.45 113.8V114.3M595.80 114.1V114.6M596.15 114.6V116.0M596.85 115.1V119.3M597.20 119.3V121.6M597.90 119.0V123.1M598.25 123.1V123.6M598.60 123.6V124.6M598.95 124.6V128.3M600.00 125.0V129.9M601.05 126.3V128.6M601.40 128.6V134.9M602.10 130.6V138.4M605.95 109.0V110.2M608.05 102.2V104.7M608.75 103.3V104.3M609.80 98.4V99.7M610.50 97.0V97.8M610.85 97.8V100.2M611.20 100.2V102.8M611.90 101.5V105.8M612.25 105.8V106.8M612.60 106.8V108.5M613.30 104.2V107.2M614.70 98.0V100.8M616.80 83.0V85.1M617.85 73.9V78.5M618.55 78.5V79.5M619.60 76.8V82.4M619.95 82.4V86.7M620.30 86.7V87.6M620.65 87.6V93.8M621.00 93.8V98.9M621.35 98.9V101.5M622.75 96.9V99.1M623.45 95.3V95.8M625.20 83.8V84.6M625.55 84.6V85.1M625.90 85.0V85.6M626.25 85.6V88.7M626.95 88.0V90.0M627.65 88.0V89.0M628.00 89.0V91.8M628.70 90.5V91.7M629.05 91.7V92.6M629.75 91.4V93.2M630.10 93.2V94.7M631.50 91.6V92.2M632.55 87.7V88.2M634.30 82.3V83.3M635.35 80.2V83.1M636.40 81.0V82.4M637.10 79.7V81.2M638.50 66.9V67.4M639.20 62.3V65.3M639.90 63.6V64.6M640.25 64.6V71.0M642.00 64.1V64.9M644.80 37.8V42.1M645.15 42.1V44.7M645.50 44.7V46.2M645.85 46.2V50.9M646.55 49.9V52.4M646.90 52.4V58.8M647.25 58.8V66.5M647.95 64.2V72.6M648.65 70.8V72.0M649.00 72.0V75.9M649.35 75.9V78.4M649.70 78.4V82.7M650.40 82.1V86.8M651.10 82.8V88.0M651.80 84.6V87.4M653.55 76.3V77.4M653.90 77.4V79.1M654.25 79.1V81.8M654.60 81.8V84.4M654.95 84.4V85.9M655.30 85.9V87.3M655.65 87.3V90.4M656.35 89.7V92.1M657.05 92.1V96.5M657.40 96.5V97.0M658.10 95.7V97.3M658.80 96.0V99.3M659.85 98.8V100.8M660.20 100.8V102.7M660.55 102.7V103.2M662.30 97.7V98.4M664.05 89.7V90.5M664.40 90.5V91.0M665.45 88.1V88.6M666.15 87.4V87.9M667.55 81.3V81.9M669.30 77.0V77.7M669.65 77.7V78.2M670.35 75.4V77.2M670.70 77.2V78.0M671.40 74.9V75.8M672.10 72.9V73.6M672.45 73.6V74.1M673.15 71.0V73.7M673.85 72.3V74.6M674.20 74.6V77.6M674.90 77.1V80.9M675.60 80.9V82.5M675.95 82.5V83.0M676.30 82.8V83.5M676.65 83.5V85.5M677.00 85.5V86.0M677.70 85.7V86.2M678.05 85.9V87.4M678.40 87.4V90.5M678.75 90.5V92.6M679.10 92.6V95.3M679.45 95.3V98.1M679.80 98.1V102.7M680.15 102.7V105.5M680.50 105.5V114.8M680.85 114.8V122.2M681.90 109.5V111.5M683.30 103.1V104.6M683.65 104.6V105.2M684.00 105.2V106.0M684.35 106.0V108.2M685.40 107.3V108.6M686.45 106.6V107.1M688.90 101.1V101.6M689.60 101.0V101.5M689.95 101.3V103.9M691.00 101.9V102.7M691.70 100.7V101.2M692.40 99.5V100.0" stroke="#ef5350" stroke-width="0.5" fill="none"/>
<polyline points="-2.0,317.5 -1.6,318.2 -1.3,317.7 -1.0,318.4 -0.6,318.1 -0.2,317.7 0.1,317.5 0.4,317.3 0.8,317.5 1.1,317.4 1.5,317.4 1.8,317.9 2.2,318.2 2.5,318.8 2.9,319.5 3.2,320.0 3.6,320.7 3.9,320.7 4.3,320.8 4.6,320.6 5.0,319.6 5.3,317.9 5.7,316.2 6.0,313.8 6.4,311.3 6.8,308.5 7.1,306.0 7.4,303.5 7.8,300.7 8.1,298.0 8.5,295.8 8.8,293.4 9.2,291.6 9.5,289.8 9.9,287.7 10.2,285.3 10.6,283.1 10.9,280.3 11.3,278.2 11.6,276.2 12.0,274.5 12.3,273.3 12.7,272.4 13.0,272.2 13.4,272.5 13.7,272.8 14.1,274.0 14.4,274.9 14.8,275.5 15.1,276.3 15.5,276.3 15.8,276.2 16.2,275.9 16.5,275.4 16.9,275.3 17.2,274.7 17.6,274.6 17.9,274.6 18.3,274.4 18.6,274.6 19.0,274.7 19.3,274.4 19.7,274.1 20.0,273.3 20.4,272.8 20.8,271.9 21.1,271.0 21.4,270.1 21.8,269.3 22.1,268.7 22.5,268.2 22.8,267.7 23.2,267.3 23.5,266.6 23.9,265.2 24.2,263.9 24.6,262.6 24.9,261.1 25.3,259.8 25.6,258.6 26.0,257.8 26.3,257.3 26.7,256.9 27.0,257.5 27.4,258.4 27.7,259.1 28.1,260.3 28.4,261.2 28.8,262.1 29.1,263.0 29.5,263.7 29.8,264.0 30.2,264.2 30.5,264.4 30.9,264.4 31.2,264.2 31.6,264.0 31.9,264.2 32.3,264.4 32.6,264.8 33.0,265.8 33.3,266.7 33.7,267.3 34.0,268.1 34.4,269.0 34.8,269.7 35.1,270.2 35.4,270.4 35.8,270.2 36.1,269.8 36.5,269.3 36.8,269.2 37.2,268.8 37.5,268.0 37.9,267.2 38.2,266.1 38.6,264.8 38.9,263.3 39.3,261.5 39.6,259.4 40.0,257.2 40.3,255.3 40.7,253.6 41.0,251.9 41.4,250.7 41.8,250.3 42.1,250.3 42.4,250.4 42.8,250.5 43.1,250.4 43.5,250.0 43.8,249.7 44.2,249.4 44.5,248.9 44.9,248.6 45.2,248.4 45.6,248.6 45.9,249.5 46.3,250.7 46.6,252.6 47.0,254.3 47.3,256.6 47.7,258.9 48.0,260.7 48.4,262.2 48.8,263.5 49.1,264.7 49.4,265.9 49.8,265.9 50.1,266.0 50.5,265.5 50.8,264.8 51.2,263.8 51.5,263.2 51.9,262.3 52.2,261.3 52.6,260.3 52.9,259.8 53.3,259.3 53.6,258.9 54.0,258.9 54.3,258.9 54.7,259.0 55.0,259.5 55.4,260.0 55.7,260.6 56.1,261.6 56.4,263.1 56.8,264.7 57.1,266.1 57.5,267.2 57.8,267.7 58.2,267.7 58.5,267.6 58.9,266.8 59.2,265.6 59.6,263.7 59.9,261.5 60.3,259.5 60.6,257.9 61.0,257.1 61.3,256.4 61.7,256.2 62.0,256.4 62.4,256.5 62.8,257.1 63.1,257.7 63.5,258.2 63.8,258.5 64.1,258.5 64.5,258.4 64.8,258.3 65.2,258.2 65.5,258.3 65.9,258.6 66.2,259.0 66.6,259.4 66.9,260.0 67.3,260.7 67.6,261.3 68.0,261.6 68.3,262.1 68.7,262.2 69.0,262.1 69.4,262.0 69.8,262.1 70.1,262.3 70.4,262.5 70.8,262.8 71.1,263.2 71.5,263.4 71.8,263.7 72.2,264.2 72.5,264.6 72.9,264.5 73.2,264.3 73.6,263.9 73.9,263.5 74.3,263.5 74.6,263.3 75.0,263.3 75.3,263.3 75.7,263.2 76.0,263.5 76.4,263.6 76.8,263.5 77.1,263.5 77.4,262.6 77.8,261.6 78.1,260.7 78.5,259.5 78.8,258.1 79.2,256.8 79.5,255.5 79.9,254.6 80.2,253.5 80.6,252.9 80.9,252.6 81.3,252.3 81.6,251.8 82.0,251.9 82.3,251.3 82.7,250.9 83.0,250.2 83.4,249.5 83.8,248.9 84.1,248.2 84.4,247.4 84.8,246.9 85.1,246.4 85.5,246.2 85.8,245.8 86.2,245.5 86.5,245.3 86.9,244.8 87.2,243.8 87.6,242.4 87.9,240.9 88.3,239.2 88.6,237.0 89.0,234.8 89.3,232.4 89.7,230.1 90.0,228.3 90.4,226.7 90.8,225.2 91.1,223.9 91.4,222.7 91.8,221.5 92.1,220.2 92.5,218.8 92.8,217.7 93.2,216.0 93.5,214.2 93.9,212.7 94.2,211.3 94.6,209.9 94.9,209.0 95.3,208.6 95.6,208.6 96.0,207.7 96.3,207.1 96.7,206.9 97.0,206.3 97.4,205.8 97.8,205.8 98.1,206.0 98.4,206.5 98.8,207.3 99.1,208.8 99.5,211.1 99.8,213.1 100.2,215.2 100.5,216.9 100.9,218.0 101.2,218.3 101.6,218.1 101.9,216.9 102.3,215.2 102.6,212.4 103.0,210.2 103.3,208.5 103.7,206.4 104.0,204.7 104.4,203.5 104.8,202.5 105.1,202.3 105.4,202.7 105.8,203.3 106.1,203.7 106.5,204.0 106.8,204.7 107.2,205.2 107.5,206.1 107.9,207.2 108.2,208.4 108.6,209.2 108.9,210.2 109.3,211.0 109.6,211.8 110.0,211.7 110.3,211.7 110.7,210.5 111.0,208.5 111.4,206.0 111.7,202.4 112.1,198.4 112.4,194.2 112.8,190.0 113.1,187.7 113.5,184.9 113.8,183.8 114.2,182.8 114.5,182.3 114.9,183.2 115.2,184.2 115.6,185.1 115.9,186.3 116.3,185.8 116.6,185.8 117.0,184.5 117.3,183.3 117.7,182.1 118.0,181.1 118.4,179.9 118.7,179.5 119.1,178.7 119.4,179.1 119.8,179.2 120.1,179.7 120.5,180.3 120.8,181.0 121.2,181.2 121.5,181.9 121.9,182.0 122.2,182.7 122.6,182.7 122.9,182.9 123.3,183.7 123.6,184.8 124.0,185.9 124.3,187.9 124.7,189.5 125.0,191.5 125.4,193.6 125.7,195.4 126.1,196.7 126.4,197.7 126.8,198.2 127.2,197.9 127.5,197.4 127.8,196.8 128.2,196.1 128.5,195.0 128.9,194.4 129.2,193.9 129.6,193.8 129.9,193.7 130.3,193.9 130.7,193.5 131.0,193.3 131.3,192.9 131.7,193.0 132.0,193.2 132.4,194.2 132.8,195.5 133.1,196.9 133.4,199.2 133.8,203.0 134.1,207.4 134.5,212.2 134.8,216.6 135.2,220.2 135.5,222.4 135.9,223.9 136.2,225.6 136.6,226.2 136.9,225.5 137.3,224.2 137.6,222.4 138.0,220.6 138.3,219.0 138.7,218.4 139.0,217.9 139.4,217.0 139.8,216.5 140.1,215.7 140.4,214.8 140.8,214.0 141.1,213.4 141.5,213.2 141.8,213.5 142.2,214.1 142.5,215.7 142.9,217.2 143.2,220.0 143.6,223.8 143.9,227.9 144.3,232.1 144.6,236.0 145.0,240.3 145.3,244.1 145.7,246.9 146.0,248.6 146.4,249.3 146.8,250.0 147.1,249.7 147.4,249.6 147.8,249.6 148.1,249.1 148.5,248.8 148.8,248.9 149.2,249.8 149.5,249.9 149.9,249.2 150.2,248.6 150.6,247.4 150.9,245.8 151.3,244.3 151.6,242.6 152.0,241.0 152.3,239.9 152.7,239.9 153.0,240.3 153.4,240.7 153.8,241.8 154.1,243.3 154.4,244.1 154.8,245.0 155.1,245.8 155.5,246.0 155.8,245.5 156.2,244.8 156.5,244.6 156.9,244.1 157.2,243.5 157.6,243.1 157.9,242.9 158.3,242.8 158.6,243.1 159.0,243.8 159.3,244.6 159.7,245.1 160.0,245.7 160.4,245.9 160.8,246.3 161.1,246.7 161.4,246.8 161.8,247.1 162.1,247.2 162.5,247.3 162.8,247.6 163.2,247.5 163.5,247.4 163.9,247.1 164.2,246.2 164.6,245.3 164.9,243.9 165.3,242.4 165.6,240.9 166.0,239.0 166.3,237.5 166.7,236.1 167.0,235.2 167.4,234.5 167.8,234.2 168.1,234.1 168.4,234.0 168.8,233.9 169.1,233.8 169.5,233.7 169.8,233.6 170.2,232.9 170.5,232.5 170.9,231.7 171.2,231.0 171.6,230.7 171.9,230.4 172.3,230.4 172.6,230.7 173.0,231.0 173.3,231.6 173.7,232.3 174.0,233.1 174.4,233.9 174.8,234.3 175.1,234.5 175.4,234.6 175.8,234.8 176.1,235.1 176.5,235.1 176.8,235.2 177.2,235.6 177.5,235.9 177.9,237.0 178.2,238.3 178.6,239.4 178.9,240.3 179.3,241.2 179.6,242.3 180.0,243.7 180.3,244.7 180.7,246.1 181.0,246.8 181.4,248.0 181.8,250.4 182.1,252.6 182.4,255.5 182.8,258.3 183.1,260.7 183.5,262.2 183.8,263.8 184.2,265.1 184.5,265.8 184.9,265.1 185.2,264.9 185.6,263.5 185.9,262.6 186.3,261.2 186.6,260.9 187.0,260.2 187.3,260.1 187.7,260.1 188.0,260.2 188.4,260.2 188.8,260.3 189.1,260.1 189.4,260.5 189.8,260.4 190.1,260.7 190.5,260.9 190.8,261.2 191.2,262.2 191.5,263.0 191.9,264.6 192.2,266.9 192.6,269.1 192.9,271.3 193.3,273.3 193.6,275.3 194.0,276.7 194.3,277.5 194.7,278.7 195.0,279.4 195.4,279.1 195.8,278.7 196.1,278.5 196.4,278.5 196.8,278.8 197.1,279.1 197.5,279.3 197.8,279.3 198.2,279.3 198.5,279.5 198.9,279.3 199.2,278.8 199.6,278.3 199.9,277.2 200.3,276.7 200.6,276.1 201.0,275.4 201.3,275.1 201.7,275.0 202.0,275.2 202.4,275.6 202.8,275.9 203.1,276.6 203.4,276.8 203.8,277.5 204.1,278.1 204.5,278.6 204.8,279.5 205.2,280.5 205.5,281.6 205.9,283.3 206.2,285.2 206.6,287.7 206.9,290.0 207.3,292.1 207.6,294.1 208.0,295.7 208.3,296.5 208.7,296.9 209.0,296.9 209.4,296.4 209.8,295.5 210.1,294.2 210.4,293.3 210.8,292.6 211.1,291.7 211.5,291.8 211.8,292.6 212.2,293.0 212.5,293.3 212.9,294.2 213.2,294.9 213.6,295.5 213.9,296.0 214.3,297.1 214.6,298.0 215.0,298.8 215.3,299.8 215.7,301.1 216.0,302.7 216.4,304.8 216.8,306.7 217.1,307.8 217.4,308.4 217.8,308.7 218.1,308.3 218.5,307.9 218.8,307.4 219.2,306.1 219.5,304.3 219.9,303.0 220.2,302.1 220.6,301.4 220.9,301.0 221.3,300.8 221.6,300.5 222.0,300.1 222.3,299.8 222.7,299.4 223.0,298.6 223.4,297.5 223.7,296.5 224.1,295.2 224.4,294.2 224.8,293.3 225.1,292.3 225.5,291.7 225.8,291.2 226.2,290.7 226.5,290.6 226.9,289.8 227.2,289.2 227.6,287.8 227.9,286.9 228.3,286.0 228.6,285.0 229.0,284.8 229.3,284.6 229.7,284.9 230.0,286.3 230.4,287.9 230.7,289.8 231.1,291.5 231.4,293.0 231.8,294.3 232.1,295.1 232.5,295.8 232.8,295.7 233.2,294.9 233.5,294.3 233.9,293.9 234.2,293.4 234.6,293.5 234.9,293.8 235.3,294.1 235.6,294.7 236.0,295.7 236.3,296.7 236.7,297.4 237.0,297.7 237.4,297.9 237.7,297.5 238.1,297.0 238.4,296.3 238.8,295.4 239.1,294.5 239.5,293.4 239.8,292.8 240.2,292.8 240.5,292.6 240.9,293.0 241.2,293.3 241.6,293.8 241.9,294.1 242.3,294.2 242.6,294.5 243.0,294.8 243.3,294.9 243.7,295.2 244.0,295.4 244.4,295.9 244.7,296.8 245.1,298.0 245.4,299.5 245.8,300.5 246.1,301.1 246.5,301.7 246.8,302.2 247.2,301.9 247.5,300.9 247.9,299.7 248.2,298.3 248.6,297.5 248.9,297.1 249.3,297.5 249.6,297.9 250.0,298.7 250.3,300.4 250.7,302.5 251.0,304.2 251.4,305.9 251.7,307.1 252.1,308.3 252.4,309.0 252.8,309.7 253.1,310.9 253.5,311.6 253.8,312.7 254.2,314.6 254.6,316.6 254.9,318.4 255.2,320.3 255.6,322.1 255.9,322.9 256.3,323.6 256.6,323.8 257.0,323.9 257.3,323.2 257.7,322.3 258.1,321.2 258.4,320.3 258.8,319.3 259.1,318.9 259.4,318.4 259.8,318.3 260.1,317.9 260.5,317.8 260.8,317.6 261.2,317.7 261.6,317.4 261.9,317.0 262.2,316.7 262.6,316.2 262.9,315.7 263.3,315.3 263.6,314.7 264.0,314.2 264.3,313.4 264.7,313.2 265.1,312.7 265.4,312.1 265.8,311.6 266.1,310.5 266.4,309.1 266.8,307.2 267.1,305.6 267.5,304.0 267.8,301.3 268.2,299.7 268.5,297.9 268.9,296.9 269.2,296.3 269.6,295.9 269.9,296.4 270.3,296.6 270.6,296.5 271.0,297.0 271.3,297.0 271.7,297.3 272.0,296.5 272.4,296.1 272.8,296.1 273.1,295.5 273.4,295.4 273.8,295.6 274.1,295.8 274.5,295.8 274.8,295.4 275.2,295.4 275.5,294.3 275.9,292.8 276.2,291.0 276.6,288.7 276.9,286.4 277.3,283.8 277.6,281.4 278.0,279.5 278.3,277.9 278.7,277.1 279.0,276.6 279.4,276.9 279.8,277.4 280.1,278.0 280.4,278.6 280.8,279.3 281.1,279.3 281.5,279.2 281.8,279.3 282.2,279.0 282.5,278.2 282.9,277.6 283.2,277.0 283.6,276.4 283.9,275.5 284.3,274.9 284.6,274.4 285.0,273.1 285.3,272.1 285.7,270.8 286.0,269.4 286.4,268.3 286.8,267.6 287.1,267.1 287.4,267.2 287.8,267.0 288.1,267.5 288.5,267.7 288.8,268.5 289.2,269.1 289.5,269.4 289.9,269.5 290.2,269.5 290.6,269.0 290.9,268.6 291.3,268.2 291.6,268.0 292.0,267.9 292.3,267.9 292.7,268.4 293.0,269.0 293.4,269.9 293.8,271.1 294.1,272.4 294.4,273.6 294.8,275.1 295.1,276.3 295.5,277.5 295.8,278.2 296.2,279.1 296.5,279.5 296.9,279.1 297.2,277.9 297.6,276.4 297.9,274.4 298.3,271.5 298.6,268.6 299.0,265.7 299.3,262.5 299.7,259.6 300.0,257.6 300.4,256.7 300.8,255.8 301.1,255.8 301.4,256.5 301.8,257.6 302.1,259.6 302.5,262.5 302.8,265.8 303.2,269.2 303.5,272.4 303.9,276.2 304.2,279.0 304.6,281.9 304.9,283.8 305.3,285.0 305.6,285.1 306.0,284.8 306.3,284.0 306.7,282.9 307.0,281.5 307.4,280.4 307.8,279.7 308.1,279.5 308.4,279.3 308.8,279.3 309.1,279.0 309.5,278.7 309.8,278.6 310.2,278.3 310.5,277.6 310.9,276.8 311.2,275.8 311.6,275.2 311.9,274.9 312.3,275.4 312.6,276.7 313.0,278.2 313.3,280.4 313.7,282.9 314.0,286.2 314.4,289.3 314.8,292.1 315.1,294.2 315.4,295.8 315.8,297.2 316.1,297.8 316.5,297.8 316.8,298.4 317.2,297.8 317.5,297.5 317.9,297.2 318.2,297.2 318.6,296.9 318.9,295.9 319.3,295.2 319.6,294.5 320.0,293.1 320.3,292.1 320.7,290.7 321.0,289.4 321.4,288.2 321.8,287.5 322.1,287.2 322.4,287.1 322.8,287.2 323.1,287.7 323.5,288.1 323.8,288.9 324.2,289.7 324.5,290.1 324.9,290.3 325.2,290.3 325.6,290.0 325.9,289.4 326.3,288.8 326.6,288.2 327.0,287.7 327.3,287.0 327.7,286.6 328.0,286.4 328.4,286.1 328.8,286.0 329.1,286.1 329.4,286.3 329.8,286.4 330.1,286.2 330.5,286.4 330.8,286.3 331.2,286.0 331.5,286.0 331.9,286.4 332.2,286.7 332.6,286.7 332.9,286.8 333.3,287.0 333.6,286.9 334.0,286.7 334.3,286.7 334.7,286.4 335.0,285.6 335.4,285.1 335.8,284.5 336.1,284.0 336.4,283.7 336.8,283.7 337.1,284.4 337.5,285.0 337.8,285.6 338.2,286.7 338.5,287.4 338.9,288.3 339.2,289.2 339.6,289.6 339.9,290.1 340.3,290.3 340.6,290.4 341.0,290.9 341.3,291.1 341.7,291.6 342.0,292.4 342.4,293.2 342.8,294.1 343.1,294.9 343.4,295.6 343.8,296.3 344.1,297.0 344.5,297.3 344.8,297.6 345.2,297.9 345.5,298.0 345.9,298.3 346.2,298.4 346.6,298.7 346.9,298.9 347.3,298.7 347.6,298.8 348.0,298.5 348.3,298.0 348.7,297.3 349.0,296.5 349.4,295.7 349.8,294.6 350.1,293.7 350.4,293.0 350.8,291.8 351.1,290.7 351.5,289.5 351.8,288.2 352.2,286.2 352.5,284.5 352.9,282.0 353.2,278.5 353.6,275.7 353.9,272.6 354.3,269.2 354.6,265.6 355.0,262.3 355.3,259.7 355.7,257.0 356.0,255.3 356.4,253.8 356.8,252.1 357.1,251.1 357.4,250.7 357.8,250.3 358.1,249.7 358.5,248.8 358.8,248.0 359.2,247.1 359.5,246.7 359.9,246.4 360.2,245.6 360.6,245.1 360.9,244.7 361.3,244.4 361.6,244.0 362.0,243.5 362.3,242.1 362.7,241.0 363.0,239.6 363.4,238.1 363.8,236.5 364.1,235.1 364.4,234.2 364.8,234.1 365.1,234.3 365.5,235.4 365.8,236.3 366.2,237.7 366.5,239.4 366.9,240.8 367.2,242.4 367.6,243.5 367.9,244.7 368.3,245.5 368.6,246.7 369.0,248.0 369.3,249.0 369.7,250.7 370.0,252.2 370.4,253.9 370.8,255.6 371.1,257.4 371.4,259.6 371.8,261.0 372.1,262.2 372.5,263.2 372.8,263.3 373.2,263.3 373.5,263.0 373.9,262.8 374.2,262.0 374.6,261.0 374.9,260.2 375.3,259.1 375.6,258.5 376.0,258.1 376.3,258.0 376.7,257.3 377.0,256.6 377.4,255.8 377.8,254.3 378.1,252.9 378.4,251.4 378.8,250.0 379.1,248.2 379.5,246.2 379.8,244.7 380.2,243.7 380.5,242.6 380.9,242.6 381.2,242.4 381.6,242.5 381.9,242.4 382.3,242.8 382.6,243.2 383.0,243.4 383.3,243.3 383.7,243.4 384.0,242.9 384.4,243.2 384.8,243.2 385.1,243.2 385.4,243.1 385.8,243.2 386.1,243.4 386.5,243.3 386.8,243.2 387.2,243.2 387.5,242.6 387.9,242.0 388.2,241.5 388.6,241.0 388.9,240.2 389.3,239.5 389.6,239.2 390.0,239.0 390.3,238.7 390.7,238.5 391.0,238.3 391.4,238.2 391.8,238.0 392.1,238.0 392.4,237.8 392.8,237.3 393.1,237.0 393.5,236.5 393.8,236.6 394.2,236.7 394.5,236.8 394.9,237.3 395.2,237.8 395.6,238.4 395.9,239.5 396.3,240.6 396.6,241.7 397.0,242.4 397.3,243.5 397.7,244.2 398.0,244.7 398.4,245.2 398.8,245.7 399.1,245.8 399.4,245.8 399.8,245.9 400.1,246.1 400.5,245.7 400.8,245.4 401.2,245.1 401.5,244.4 401.9,243.5 402.2,242.5 402.6,241.5 402.9,240.3 403.3,238.8 403.6,237.7 404.0,236.9 404.3,235.5 404.7,235.0 405.0,234.0 405.4,233.1 405.8,232.6 406.1,231.8 406.4,231.6 406.8,231.3 407.1,231.1 407.5,231.6 407.8,231.7 408.2,233.2 408.5,234.7 408.9,236.4 409.2,238.6 409.6,240.8 409.9,242.7 410.3,244.5 410.6,245.8 411.0,247.5 411.3,247.8 411.7,248.1 412.0,248.2 412.4,248.0 412.8,247.7 413.1,247.5 413.4,247.3 413.8,247.8 414.1,248.0 414.5,248.8 414.8,249.6 415.2,250.5 415.5,251.3 415.9,251.9 416.2,252.5 416.6,252.9 416.9,252.8 417.3,252.3 417.6,251.8 418.0,251.5 418.3,251.1 418.7,250.8 419.0,250.7 419.4,250.9 419.8,250.9 420.1,251.1 420.4,251.4 420.8,251.9 421.1,252.2 421.5,252.4 421.8,252.7 422.2,252.7 422.5,252.5 422.9,252.6 423.2,252.9 423.6,253.4 423.9,253.8 424.3,254.6 424.6,255.1 425.0,255.7 425.3,256.3 425.7,257.3 426.0,258.0 426.4,258.6 426.8,258.8 427.1,258.9 427.4,259.0 427.8,259.3 428.1,259.7 428.5,260.0 428.8,260.3 429.2,261.0 429.5,261.6 429.9,262.0 430.2,262.4 430.6,262.4 430.9,262.3 431.3,262.1 431.6,261.9 432.0,261.1 432.3,260.5 432.7,260.0 433.0,259.9 433.4,260.0 433.8,259.9 434.1,259.9 434.4,259.6 434.8,259.4 435.1,259.2 435.5,258.4 435.8,257.9 436.2,257.1 436.5,256.5 436.9,256.0 437.2,256.0 437.6,256.1 437.9,256.2 438.3,256.8 438.6,257.7 439.0,258.7 439.3,259.7 439.7,260.5 440.0,261.4 440.4,261.9 440.8,262.0 441.1,262.1 441.4,262.3 441.8,262.6 442.1,262.7 442.5,263.1 442.8,263.7 443.2,264.5 443.5,265.5 443.9,266.9 444.2,268.4 444.6,269.5 444.9,270.8 445.3,272.0 445.6,272.9 446.0,273.6 446.3,274.4 446.7,275.0 447.0,275.9 447.4,277.0 447.7,278.6 448.1,279.8 448.4,281.4 448.8,282.7 449.1,284.2 449.5,285.7 449.8,286.9 450.2,287.3 450.5,287.2 450.9,287.2 451.2,287.0 451.6,286.5 451.9,285.7 452.3,284.7 452.6,282.9 453.0,281.0 453.3,279.5 453.7,277.6 454.0,274.9 454.4,271.4 454.7,267.9 455.1,264.5 455.4,261.0 455.8,257.9 456.1,254.6 456.5,252.0 456.8,249.9 457.2,248.4 457.5,248.6 457.9,248.8 458.2,249.9 458.6,251.5 458.9,253.1 459.3,255.4 459.6,257.2 460.0,258.6 460.3,260.1 460.7,260.7 461.0,261.5 461.4,262.0 461.7,262.5 462.1,263.6 462.4,264.4 462.8,265.6 463.1,267.0 463.5,268.3 463.8,269.6 464.2,270.5 464.5,270.8 464.9,271.1 465.2,270.7 465.6,270.3 465.9,269.3 466.3,268.6 466.6,267.4 467.0,266.5 467.3,265.9 467.7,265.3 468.0,264.6 468.4,263.8 468.7,263.0 469.1,262.2 469.4,261.0 469.8,260.2 470.1,259.2 470.5,257.9 470.8,257.0 471.2,256.4 471.5,256.1 471.9,256.0 472.2,256.0 472.6,256.4 472.9,256.8 473.3,257.3 473.6,257.6 474.0,258.0 474.3,258.1 474.7,258.3 475.0,258.1 475.4,258.2 475.7,258.3 476.1,258.2 476.4,258.3 476.8,258.6 477.1,258.9 477.5,259.3 477.8,259.6 478.2,260.3 478.5,260.5 478.9,260.9 479.2,261.0 479.6,260.9 479.9,260.9 480.3,260.6 480.6,260.1 481.0,259.9 481.3,259.4 481.7,259.4 482.0,259.1 482.4,259.4 482.7,259.6 483.1,259.8 483.4,260.1 483.8,260.6 484.1,260.6 484.5,261.1 484.8,261.1 485.2,261.1 485.5,260.8 485.9,260.7 486.2,260.7 486.6,260.6 486.9,260.4 487.3,260.3 487.6,259.8 488.0,259.5 488.3,259.5 488.7,259.3 489.0,258.7 489.4,258.0 489.7,257.7 490.1,257.5 490.4,257.3 490.8,257.4 491.1,257.3 491.5,257.2 491.8,257.5 492.2,258.4 492.5,259.1 492.9,259.6 493.2,260.1 493.6,260.5 493.9,260.7 494.3,260.7 494.6,260.6 495.0,260.1 495.3,259.5 495.7,258.6 496.0,257.9 496.4,257.3 496.7,256.4 497.1,256.2 497.4,255.6 497.8,254.7 498.1,253.7 498.5,252.6 498.8,251.7 499.2,250.3 499.5,248.8 499.9,247.8 500.2,246.6 500.6,246.2 500.9,246.5 501.3,247.1 501.6,247.5 502.0,248.3 502.3,249.5 502.7,250.6 503.0,251.2 503.4,251.4 503.7,250.8 504.1,250.1 504.4,248.5 504.8,247.6 505.1,246.0 505.5,244.5 505.8,242.9 506.2,241.0 506.5,239.5 506.9,238.1 507.2,236.4 507.6,235.2 507.9,233.4 508.3,231.0 508.6,228.8 509.0,226.5 509.3,224.4 509.7,222.1 510.0,220.2 510.4,219.0 510.8,217.6 511.1,216.0 511.4,215.1 511.8,213.4 512.1,211.9 512.5,208.9 512.9,205.8 513.2,202.1 513.5,198.6 513.9,194.8 514.2,191.2 514.6,188.3 514.9,186.3 515.3,185.0 515.6,185.5 516.0,186.4 516.4,188.5 516.7,189.6 517.0,191.2 517.4,193.3 517.8,194.9 518.1,196.8 518.4,198.1 518.8,199.7 519.1,201.0 519.5,201.9 519.9,203.8 520.2,205.8 520.5,208.6 520.9,211.1 521.2,213.9 521.6,216.3 521.9,218.8 522.3,221.2 522.6,223.3 523.0,224.4 523.4,225.9 523.7,226.4 524.0,227.3 524.4,227.2 524.8,227.5 525.1,227.9 525.4,228.7 525.8,229.2 526.1,229.7 526.5,229.2 526.9,228.5 527.2,227.4 527.5,225.9 527.9,224.2 528.2,221.6 528.6,219.0 528.9,216.4 529.3,214.2 529.6,212.0 530.0,209.9 530.4,208.2 530.7,207.3 531.0,206.5 531.4,206.0 531.8,205.3 532.1,204.7 532.4,204.3 532.8,204.2 533.1,204.8 533.5,205.4 533.9,206.3 534.2,207.6 534.5,209.6 534.9,211.4 535.2,213.5 535.6,215.6 535.9,217.7 536.3,218.9 536.6,219.5 537.0,219.5 537.3,219.2 537.7,218.4 538.0,217.0 538.4,215.2 538.8,213.2 539.1,211.2 539.4,209.2 539.8,207.4 540.1,206.0 540.5,203.7 540.8,201.6 541.2,200.5 541.5,199.4 541.9,198.1 542.2,197.2 542.6,196.5 542.9,195.4 543.3,193.9 543.6,193.1 544.0,192.3 544.3,190.6 544.7,188.4 545.0,185.8 545.4,182.2 545.8,177.4 546.1,172.1 546.4,165.1 546.8,156.7 547.1,147.7 547.5,137.0 547.8,126.8 548.2,118.0 548.5,109.8 548.9,102.5 549.2,96.4 549.6,92.3 549.9,90.2 550.3,88.6 550.6,90.6 551.0,92.6 551.3,93.6 551.7,94.9 552.0,97.2 552.4,99.2 552.8,101.4 553.1,103.3 553.4,105.7 553.8,106.9 554.1,108.3 554.5,110.8 554.8,113.0 555.2,114.1 555.5,115.7 555.9,116.1 556.2,116.4 556.6,115.5 556.9,114.8 557.3,113.4 557.6,111.9 558.0,110.7 558.3,110.1 558.7,109.6 559.0,110.2 559.4,111.4 559.8,112.7 560.1,114.5 560.4,117.0 560.8,118.7 561.1,120.8 561.5,123.0 561.8,124.4 562.2,125.8 562.5,127.0 562.9,128.2 563.2,128.9 563.6,129.4 563.9,130.0 564.3,130.0 564.6,129.9 565.0,129.8 565.3,129.5 565.7,128.2 566.0,127.1 566.4,125.6 566.8,124.0 567.1,122.7 567.4,121.2 567.8,119.9 568.1,118.7 568.5,117.1 568.8,116.7 569.2,116.0 569.5,115.3 569.9,114.4 570.2,113.5 570.6,112.4 570.9,110.8 571.3,109.2 571.6,108.7 572.0,107.7 572.3,107.2 572.7,107.2 573.0,107.9 573.4,108.3 573.8,109.4 574.1,110.8 574.4,112.1 574.8,112.7 575.1,113.2 575.5,113.4 575.8,112.9 576.2,112.2 576.5,111.8 576.9,111.4 577.2,110.9 577.6,110.9 577.9,110.7 578.3,111.1 578.6,111.9 579.0,113.1 579.3,114.0 579.7,114.8 580.0,115.1 580.4,115.6 580.8,115.4 581.1,115.2 581.4,114.6 581.8,114.0 582.1,113.6 582.5,113.3 582.8,112.8 583.2,113.1 583.5,113.4 583.9,114.0 584.2,114.6 584.6,115.2 584.9,115.8 585.3,116.0 585.6,116.4 586.0,117.7 586.3,118.8 586.7,120.4 587.0,122.7 587.4,124.8 587.8,127.7 588.1,130.5 588.4,133.4 588.8,136.0 589.1,137.5 589.5,138.5 589.8,138.0 590.2,136.6 590.5,134.8 590.9,132.2 591.2,129.3 591.6,125.9 591.9,123.0 592.3,120.0 592.6,117.2 593.0,115.9 593.3,114.6 593.7,114.1 594.0,113.4 594.4,113.1 594.8,113.2 595.1,113.2 595.4,113.5 595.8,113.9 596.1,113.9 596.5,114.1 596.8,114.7 597.2,115.7 597.5,116.2 597.9,117.4 598.2,118.5 598.6,119.6 598.9,121.2 599.3,122.4 599.6,123.5 600.0,124.7 600.3,125.5 600.7,126.3 601.0,126.9 601.4,128.2 601.8,128.8 602.1,130.0 602.4,131.1 602.8,132.5 603.1,133.1 603.5,133.2 603.8,133.5 604.2,133.2 604.5,131.6 604.9,130.1 605.2,127.5 605.6,124.3 605.9,121.3 606.3,118.5 606.6,116.0 607.0,113.3 607.3,110.6 607.7,108.6 608.0,107.2 608.4,105.9 608.8,105.4 609.1,104.1 609.4,102.8 609.8,102.0 610.1,101.2 610.5,100.7 610.8,100.4 611.2,100.2 611.5,100.0 611.9,100.2 612.2,101.1 612.6,102.2 612.9,102.7 613.3,103.9 613.6,104.5 614.0,104.7 614.3,104.2 614.7,104.1 615.0,102.9 615.4,101.2 615.8,99.0 616.1,96.8 616.4,94.1 616.8,92.1 617.1,89.5 617.5,86.8 617.8,84.3 618.2,82.4 618.5,81.1 618.9,79.9 619.2,79.0 619.6,78.9 619.9,79.1 620.3,80.2 620.6,82.4 621.0,84.6 621.3,87.2 621.7,89.5 622.0,91.8 622.4,94.1 622.8,95.9 623.1,96.9 623.4,97.7 623.8,97.2 624.1,96.0 624.5,94.5 624.8,92.7 625.2,91.2 625.5,89.8 625.9,88.3 626.2,87.6 626.6,86.8 626.9,86.8 627.3,86.8 627.6,87.0 628.0,87.9 628.3,88.5 628.7,89.3 629.0,90.0 629.4,90.3 629.8,90.9 630.1,91.4 630.4,92.1 630.8,92.5 631.1,92.4 631.5,92.6 631.8,92.6 632.2,92.1 632.5,91.7 632.9,91.1 633.2,90.0 633.6,89.0 633.9,87.9 634.3,87.0 634.6,85.7 635.0,84.5 635.3,84.0 635.7,83.4 636.0,82.6 636.4,82.3 636.8,81.7 637.1,81.6 637.4,80.7 637.8,79.6 638.1,78.1 638.5,76.4 638.8,74.1 639.2,72.4 639.5,70.3 639.9,68.6 640.2,67.5 640.6,66.9 640.9,66.5 641.3,66.5 641.6,66.1 642.0,66.4 642.3,65.8 642.7,65.0 643.0,63.7 643.4,61.3 643.8,58.7 644.1,55.7 644.4,52.4 644.8,50.0 645.1,47.7 645.5,46.3 645.8,45.7 646.2,45.3 646.5,45.6 646.9,47.0 647.2,49.9 647.6,52.8 647.9,56.2 648.3,59.1 648.6,62.0 649.0,64.8 649.3,68.0 649.7,71.3 650.0,73.9 650.4,76.2 650.8,78.2 651.1,79.9 651.4,81.5 651.8,83.2 652.1,83.9 652.5,84.2 652.8,83.7 653.2,83.0 653.5,82.0 653.9,81.6 654.2,80.9 654.6,80.9 654.9,80.7 655.3,81.2 655.6,82.3 656.0,83.6 656.3,85.4 656.7,87.0 657.0,88.9 657.4,90.6 657.8,91.8 658.1,93.1 658.4,94.0 658.8,95.0 659.1,96.1 659.5,96.8 659.8,97.8 660.2,98.5 660.5,99.2 660.9,100.0 661.2,100.4 661.6,100.9 661.9,100.7 662.3,100.6 662.6,100.4 663.0,99.6 663.3,98.4 663.7,96.9 664.0,95.5 664.4,94.4 664.8,93.0 665.1,92.0 665.4,90.8 665.8,89.8 666.1,89.1 666.5,88.4 666.8,87.7 667.2,86.7 667.5,85.7 667.9,84.9 668.2,83.7 668.6,82.5 668.9,81.3 669.3,80.2 669.6,79.4 670.0,78.5 670.3,78.1 670.7,77.6 671.0,77.0 671.4,76.8 671.8,76.3 672.1,75.9 672.4,75.5 672.8,74.7 673.1,74.5 673.5,74.0 673.8,73.6 674.2,73.9 674.5,74.0 674.9,74.9 675.2,75.7 675.6,76.7 675.9,78.0 676.3,79.1 676.6,80.6 677.0,81.8 677.3,82.7 677.7,83.7 678.0,84.4 678.4,85.5 678.8,86.6 679.1,88.0 679.4,89.6 679.8,91.6 680.1,93.7 680.5,97.0 680.8,101.0 681.2,103.8 681.5,106.0 681.9,108.1 682.2,109.5 682.6,110.2 682.9,110.2 683.3,110.1 683.6,109.1 684.0,107.3 684.3,106.8 684.7,106.6 685.0,106.1 685.4,106.2 685.8,106.6 686.1,107.0 686.4,107.3 686.8,107.4 687.1,107.3 687.5,106.8 687.8,106.2 688.2,105.6 688.5,104.7 688.9,103.9 689.2,103.3 689.6,102.7 689.9,102.4 690.3,102.2 690.6,102.0 691.0,102.0 691.3,101.9 691.7,101.9 692.0,101.7 692.4,101.6 692.8,101.3" stroke="#2a9df4" stroke-width="0.6" fill="none" stroke-linejoin="round"/>
</g>
<line x1="697.5" y1="0" x2="697.5" y2="381" stroke="#161616" stroke-width="1"/>
<line x1="0" y1="365.5" x2="749" y2="365.5" stroke="#161616" stroke-width="1"/>
</svg>
<div class="t" style="left:4.0px;top:4.0px;color:#cfd2d8;font-size:8.5px;transform:scaleX(0.820);">MANA/USD, 5, COINBASE</div>
<div class="t" style="left:93.9px;top:4.0px;color:#cfd2d8;font-size:8.5px;transform:scaleX(0.657);">O</div>
<div class="t" style="left:98.8px;top:4.0px;color:#26a69a;font-size:8.5px;transform:scaleX(0.867);">2.63600000</div>
<div class="t" style="left:142.0px;top:4.0px;color:#cfd2d8;font-size:8.5px;transform:scaleX(0.850);">H</div>
<div class="t" style="left:147.6px;top:4.0px;color:#26a69a;font-size:8.5px;transform:scaleX(0.844);">2.64800000</div>
<div class="t" style="left:191.0px;top:4.0px;color:#cfd2d8;font-size:8.5px;transform:scaleX(0.800);">L</div>
<div class="t" style="left:195.5px;top:4.0px;color:#26a69a;font-size:8.5px;transform:scaleX(0.849);">2.63500000</div>
<div class="t" style="left:238.4px;top:4.0px;color:#cfd2d8;font-size:8.5px;transform:scaleX(0.700);">C</div>
<div class="t" style="left:243.0px;top:4.0px;color:#26a69a;font-size:8.5px;transform:scaleX(0.858);">2.64400000</div>
<div class="t" style="left:287.0px;top:4.0px;color:#26a69a;font-size:8.5px;transform:scaleX(0.840);">+0.00700000</div>
<div class="t" style="left:331.4px;top:4.0px;color:#26a69a;font-size:8.5px;transform:scaleX(0.840);">(+0.27%)</div>
<div class="t" style="left:4.1px;top:16.0px;color:#cfd2d8;font-size:8.5px;transform:scaleX(0.888);">MA (9, close, 0)</div>
<div class="t" style="left:62.8px;top:16.0px;color:#2196f3;font-size:8.5px;transform:scaleX(0.853);">2.63755556</div>
<div class="t" style="left:703.3px;top:-1.1px;color:#c4c7ce;font-size:8.5px;transform:scaleX(0.867);">2.75000000</div>
<div class="t" style="left:703.3px;top:41.0px;color:#c4c7ce;font-size:8.5px;transform:scaleX(0.867);">2.70000000</div>
<div class="t" style="left:703.3px;top:83.1px;color:#c4c7ce;font-size:8.5px;transform:scaleX(0.867);">2.65000000</div>
<div class="t" style="left:703.3px;top:125.2px;color:#c4c7ce;font-size:8.5px;transform:scaleX(0.867);">2.60000000</div>
<div class="t" style="left:703.3px;top:167.3px;color:#c4c7ce;font-size:8.5px;transform:scaleX(0.867);">2.55000000</div>
<div class="t" style="left:703.3px;top:209.4px;color:#c4c7ce;font-size:8.5px;transform:scaleX(0.867);">2.50000000</div>
<div class="t" style="left:703.3px;top:251.4px;color:#c4c7ce;font-size:8.5px;transform:scaleX(0.867);">2.45000000</div>
<div class="t" style="left:703.3px;top:293.5px;color:#c4c7ce;font-size:8.5px;transform:scaleX(0.867);">2.40000000</div>
<div class="t" style="left:703.3px;top:335.6px;color:#c4c7ce;font-size:8.5px;transform:scaleX(0.867);">2.35000000</div>
<div class="t" style="left:37.0px;top:369.5px;color:#c4c7ce;font-size:8.5px;transform:scaleX(0.889);">19</div>
<div class="t" style="left:138.1px;top:369.5px;color:#c4c7ce;font-size:8.5px;transform:scaleX(0.889);">20</div>
<div class="t" style="left:239.1px;top:369.5px;color:#c4c7ce;font-size:8.5px;transform:scaleX(0.889);">21</div>
<div class="t" style="left:340.1px;top:369.5px;color:#c4c7ce;font-size:8.5px;transform:scaleX(0.889);">22</div>
<div class="t" style="left:441.2px;top:369.5px;color:#c4c7ce;font-size:8.5px;transform:scaleX(0.889);">23</div>
<div class="t" style="left:542.2px;top:369.5px;color:#c4c7ce;font-size:8.5px;transform:scaleX(0.889);">24</div>
<div class="t" style="left:643.3px;top:369.5px;color:#c4c7ce;font-size:8.5px;transform:scaleX(0.889);">25</div>
<div class="lb" style="left:656px;width:41px;border-radius:1.5px 0 0 1.5px"></div><div class="lb" style="left:698px;width:49px;border-radius:0 1.5px 1.5px 0"></div>
<div class="t" style="left:703.8px;top:88.0px;color:#ffffff;font-size:8.5px;transform:scaleX(0.862);-webkit-text-stroke:0.2px #fff">2.64400000</div>
<div class="t" style="left:660.0px;top:88.0px;color:#ffffff;font-size:8.5px;transform:scaleX(0.779);-webkit-text-stroke:0.25px #fff">MANAUSD</div>
<div id="usd"></div>
<div class="t" style="left:716.7px;top:4.0px;color:#d1d4dc;font-size:8.5px;transform:scaleX(0.722);">USD</div>
</div>
<div style="position:absolute;left:749px;top:0;width:1px;height:381px;background:#b8b8b8"></div>
<div id="foot">
<svg width="20" height="10" style="left:6px;top:3px" viewBox="0 0 20 10"><path d="M0.5 0.1H5.6V6.4H2.75V2.4H0.5Z" fill="#131722"/><circle cx="7.45" cy="1.75" r="1.2" fill="#131722"/><path d="M9.7 0.1H12.9L10.7 6.4H8.1Z" fill="#131722"/></svg>
<div style="position:absolute;left:21.5px;top:0.8px;font-size:8.4px;line-height:12px;color:#131722;transform:scaleX(0.965);transform-origin:0 0;-webkit-text-stroke:0.15px #131722">TradingView</div>
</div>
</body></html>
